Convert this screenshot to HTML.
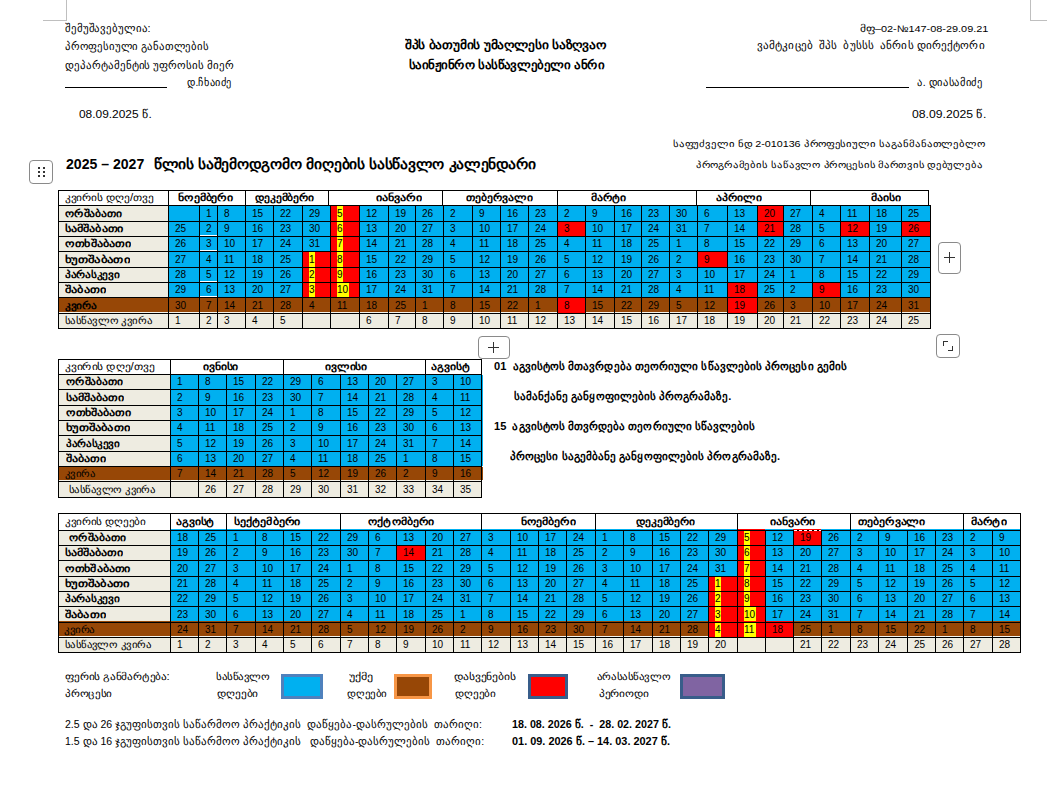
<!DOCTYPE html><html><head><meta charset="utf-8"><style>
html,body{margin:0;padding:0;background:#fff;}
#pg{position:relative;width:1047px;height:786px;overflow:hidden;background:#fff;font-family:"Liberation Sans",sans-serif;color:#000;}
#pg div{position:absolute;}
.t{white-space:pre;transform-origin:0 0;}
.b{font-weight:bold;}
</style></head><body><div id="pg">
<div style="left:58px;top:190px;width:870px;height:15px;background:#FFFFFF;"></div>
<div style="left:58px;top:205px;width:110px;height:16px;background:#EEECE1;"></div>
<div style="left:58px;top:221px;width:110px;height:15px;background:#EEECE1;"></div>
<div style="left:58px;top:236px;width:110px;height:15px;background:#EEECE1;"></div>
<div style="left:58px;top:251px;width:110px;height:16px;background:#EEECE1;"></div>
<div style="left:58px;top:267px;width:110px;height:15px;background:#EEECE1;"></div>
<div style="left:58px;top:282px;width:110px;height:15px;background:#EEECE1;"></div>
<div style="left:58px;top:297px;width:110px;height:15px;background:#974706;"></div>
<div style="left:58px;top:312px;width:110px;height:1px;background:#F6F4EC;"></div>
<div style="left:58px;top:313px;width:110px;height:15px;background:#EEECE1;"></div>
<div style="left:168px;top:205px;width:31px;height:16px;background:#00B0F0;"></div>
<div style="left:168px;top:221px;width:31px;height:15px;background:#00B0F0;"></div>
<div style="left:168px;top:236px;width:31px;height:15px;background:#00B0F0;"></div>
<div style="left:168px;top:251px;width:31px;height:16px;background:#00B0F0;"></div>
<div style="left:168px;top:267px;width:31px;height:15px;background:#00B0F0;"></div>
<div style="left:168px;top:282px;width:31px;height:15px;background:#00B0F0;"></div>
<div style="left:168px;top:297px;width:31px;height:15px;background:#974706;"></div>
<div style="left:168px;top:312px;width:31px;height:1px;background:#F6F4EC;"></div>
<div style="left:168px;top:313px;width:31px;height:15px;background:#EEECE1;"></div>
<div style="left:199px;top:205px;width:18px;height:16px;background:#00B0F0;"></div>
<div style="left:199px;top:221px;width:18px;height:15px;background:#00B0F0;"></div>
<div style="left:199px;top:236px;width:18px;height:15px;background:#00B0F0;"></div>
<div style="left:199px;top:251px;width:18px;height:16px;background:#00B0F0;"></div>
<div style="left:199px;top:267px;width:18px;height:15px;background:#00B0F0;"></div>
<div style="left:199px;top:282px;width:18px;height:15px;background:#00B0F0;"></div>
<div style="left:199px;top:297px;width:18px;height:15px;background:#974706;"></div>
<div style="left:199px;top:312px;width:18px;height:1px;background:#F6F4EC;"></div>
<div style="left:199px;top:313px;width:18px;height:15px;background:#EEECE1;"></div>
<div style="left:217px;top:205px;width:28px;height:16px;background:#00B0F0;"></div>
<div style="left:217px;top:221px;width:28px;height:15px;background:#00B0F0;"></div>
<div style="left:217px;top:236px;width:28px;height:15px;background:#00B0F0;"></div>
<div style="left:217px;top:251px;width:28px;height:16px;background:#00B0F0;"></div>
<div style="left:217px;top:267px;width:28px;height:15px;background:#00B0F0;"></div>
<div style="left:217px;top:282px;width:28px;height:15px;background:#00B0F0;"></div>
<div style="left:217px;top:297px;width:28px;height:15px;background:#974706;"></div>
<div style="left:217px;top:312px;width:28px;height:1px;background:#F6F4EC;"></div>
<div style="left:217px;top:313px;width:28px;height:15px;background:#EEECE1;"></div>
<div style="left:245px;top:205px;width:28px;height:16px;background:#00B0F0;"></div>
<div style="left:245px;top:221px;width:28px;height:15px;background:#00B0F0;"></div>
<div style="left:245px;top:236px;width:28px;height:15px;background:#00B0F0;"></div>
<div style="left:245px;top:251px;width:28px;height:16px;background:#00B0F0;"></div>
<div style="left:245px;top:267px;width:28px;height:15px;background:#00B0F0;"></div>
<div style="left:245px;top:282px;width:28px;height:15px;background:#00B0F0;"></div>
<div style="left:245px;top:297px;width:28px;height:15px;background:#974706;"></div>
<div style="left:245px;top:312px;width:28px;height:1px;background:#F6F4EC;"></div>
<div style="left:245px;top:313px;width:28px;height:15px;background:#EEECE1;"></div>
<div style="left:273px;top:205px;width:29px;height:16px;background:#00B0F0;"></div>
<div style="left:273px;top:221px;width:29px;height:15px;background:#00B0F0;"></div>
<div style="left:273px;top:236px;width:29px;height:15px;background:#00B0F0;"></div>
<div style="left:273px;top:251px;width:29px;height:16px;background:#00B0F0;"></div>
<div style="left:273px;top:267px;width:29px;height:15px;background:#00B0F0;"></div>
<div style="left:273px;top:282px;width:29px;height:15px;background:#00B0F0;"></div>
<div style="left:273px;top:297px;width:29px;height:15px;background:#974706;"></div>
<div style="left:273px;top:312px;width:29px;height:1px;background:#F6F4EC;"></div>
<div style="left:273px;top:313px;width:29px;height:15px;background:#EEECE1;"></div>
<div style="left:302px;top:205px;width:28px;height:16px;background:#00B0F0;"></div>
<div style="left:302px;top:221px;width:28px;height:15px;background:#00B0F0;"></div>
<div style="left:302px;top:236px;width:28px;height:15px;background:#00B0F0;"></div>
<div style="left:302px;top:251px;width:28px;height:16px;background:#FF0000;"></div>
<div style="left:302px;top:267px;width:28px;height:15px;background:#FF0000;"></div>
<div style="left:302px;top:282px;width:28px;height:15px;background:#FF0000;"></div>
<div style="left:302px;top:297px;width:28px;height:15px;background:#974706;"></div>
<div style="left:302px;top:312px;width:28px;height:1px;background:#F6F4EC;"></div>
<div style="left:302px;top:313px;width:28px;height:15px;background:#EEECE1;"></div>
<div style="left:330px;top:205px;width:29px;height:16px;background:#FF0000;"></div>
<div style="left:330px;top:221px;width:29px;height:15px;background:#FF0000;"></div>
<div style="left:330px;top:236px;width:29px;height:15px;background:#FF0000;"></div>
<div style="left:330px;top:251px;width:29px;height:16px;background:#FF0000;"></div>
<div style="left:330px;top:267px;width:29px;height:15px;background:#FF0000;"></div>
<div style="left:330px;top:282px;width:29px;height:15px;background:#FF0000;"></div>
<div style="left:330px;top:297px;width:29px;height:15px;background:#974706;"></div>
<div style="left:330px;top:312px;width:29px;height:1px;background:#F6F4EC;"></div>
<div style="left:330px;top:313px;width:29px;height:15px;background:#EEECE1;"></div>
<div style="left:359px;top:205px;width:29px;height:16px;background:#00B0F0;"></div>
<div style="left:359px;top:221px;width:29px;height:15px;background:#00B0F0;"></div>
<div style="left:359px;top:236px;width:29px;height:15px;background:#00B0F0;"></div>
<div style="left:359px;top:251px;width:29px;height:16px;background:#00B0F0;"></div>
<div style="left:359px;top:267px;width:29px;height:15px;background:#00B0F0;"></div>
<div style="left:359px;top:282px;width:29px;height:15px;background:#00B0F0;"></div>
<div style="left:359px;top:297px;width:29px;height:15px;background:#974706;"></div>
<div style="left:359px;top:312px;width:29px;height:1px;background:#F6F4EC;"></div>
<div style="left:359px;top:313px;width:29px;height:15px;background:#EEECE1;"></div>
<div style="left:388px;top:205px;width:27px;height:16px;background:#00B0F0;"></div>
<div style="left:388px;top:221px;width:27px;height:15px;background:#00B0F0;"></div>
<div style="left:388px;top:236px;width:27px;height:15px;background:#00B0F0;"></div>
<div style="left:388px;top:251px;width:27px;height:16px;background:#00B0F0;"></div>
<div style="left:388px;top:267px;width:27px;height:15px;background:#00B0F0;"></div>
<div style="left:388px;top:282px;width:27px;height:15px;background:#00B0F0;"></div>
<div style="left:388px;top:297px;width:27px;height:15px;background:#974706;"></div>
<div style="left:388px;top:312px;width:27px;height:1px;background:#F6F4EC;"></div>
<div style="left:388px;top:313px;width:27px;height:15px;background:#EEECE1;"></div>
<div style="left:415px;top:205px;width:28px;height:16px;background:#00B0F0;"></div>
<div style="left:415px;top:221px;width:28px;height:15px;background:#00B0F0;"></div>
<div style="left:415px;top:236px;width:28px;height:15px;background:#00B0F0;"></div>
<div style="left:415px;top:251px;width:28px;height:16px;background:#00B0F0;"></div>
<div style="left:415px;top:267px;width:28px;height:15px;background:#00B0F0;"></div>
<div style="left:415px;top:282px;width:28px;height:15px;background:#00B0F0;"></div>
<div style="left:415px;top:297px;width:28px;height:15px;background:#974706;"></div>
<div style="left:415px;top:312px;width:28px;height:1px;background:#F6F4EC;"></div>
<div style="left:415px;top:313px;width:28px;height:15px;background:#EEECE1;"></div>
<div style="left:443px;top:205px;width:29px;height:16px;background:#00B0F0;"></div>
<div style="left:443px;top:221px;width:29px;height:15px;background:#00B0F0;"></div>
<div style="left:443px;top:236px;width:29px;height:15px;background:#00B0F0;"></div>
<div style="left:443px;top:251px;width:29px;height:16px;background:#00B0F0;"></div>
<div style="left:443px;top:267px;width:29px;height:15px;background:#00B0F0;"></div>
<div style="left:443px;top:282px;width:29px;height:15px;background:#00B0F0;"></div>
<div style="left:443px;top:297px;width:29px;height:15px;background:#974706;"></div>
<div style="left:443px;top:312px;width:29px;height:1px;background:#F6F4EC;"></div>
<div style="left:443px;top:313px;width:29px;height:15px;background:#EEECE1;"></div>
<div style="left:472px;top:205px;width:28px;height:16px;background:#00B0F0;"></div>
<div style="left:472px;top:221px;width:28px;height:15px;background:#00B0F0;"></div>
<div style="left:472px;top:236px;width:28px;height:15px;background:#00B0F0;"></div>
<div style="left:472px;top:251px;width:28px;height:16px;background:#00B0F0;"></div>
<div style="left:472px;top:267px;width:28px;height:15px;background:#00B0F0;"></div>
<div style="left:472px;top:282px;width:28px;height:15px;background:#00B0F0;"></div>
<div style="left:472px;top:297px;width:28px;height:15px;background:#974706;"></div>
<div style="left:472px;top:312px;width:28px;height:1px;background:#F6F4EC;"></div>
<div style="left:472px;top:313px;width:28px;height:15px;background:#EEECE1;"></div>
<div style="left:500px;top:205px;width:28px;height:16px;background:#00B0F0;"></div>
<div style="left:500px;top:221px;width:28px;height:15px;background:#00B0F0;"></div>
<div style="left:500px;top:236px;width:28px;height:15px;background:#00B0F0;"></div>
<div style="left:500px;top:251px;width:28px;height:16px;background:#00B0F0;"></div>
<div style="left:500px;top:267px;width:28px;height:15px;background:#00B0F0;"></div>
<div style="left:500px;top:282px;width:28px;height:15px;background:#00B0F0;"></div>
<div style="left:500px;top:297px;width:28px;height:15px;background:#974706;"></div>
<div style="left:500px;top:312px;width:28px;height:1px;background:#F6F4EC;"></div>
<div style="left:500px;top:313px;width:28px;height:15px;background:#EEECE1;"></div>
<div style="left:528px;top:205px;width:29px;height:16px;background:#00B0F0;"></div>
<div style="left:528px;top:221px;width:29px;height:15px;background:#00B0F0;"></div>
<div style="left:528px;top:236px;width:29px;height:15px;background:#00B0F0;"></div>
<div style="left:528px;top:251px;width:29px;height:16px;background:#00B0F0;"></div>
<div style="left:528px;top:267px;width:29px;height:15px;background:#00B0F0;"></div>
<div style="left:528px;top:282px;width:29px;height:15px;background:#00B0F0;"></div>
<div style="left:528px;top:297px;width:29px;height:15px;background:#974706;"></div>
<div style="left:528px;top:312px;width:29px;height:1px;background:#F6F4EC;"></div>
<div style="left:528px;top:313px;width:29px;height:15px;background:#EEECE1;"></div>
<div style="left:557px;top:205px;width:28px;height:16px;background:#00B0F0;"></div>
<div style="left:557px;top:221px;width:28px;height:15px;background:#FF0000;"></div>
<div style="left:557px;top:236px;width:28px;height:15px;background:#00B0F0;"></div>
<div style="left:557px;top:251px;width:28px;height:16px;background:#00B0F0;"></div>
<div style="left:557px;top:267px;width:28px;height:15px;background:#00B0F0;"></div>
<div style="left:557px;top:282px;width:28px;height:15px;background:#00B0F0;"></div>
<div style="left:557px;top:297px;width:28px;height:16px;background:#FF0000;"></div>
<div style="left:557px;top:313px;width:28px;height:15px;background:#EEECE1;"></div>
<div style="left:585px;top:205px;width:29px;height:16px;background:#00B0F0;"></div>
<div style="left:585px;top:221px;width:29px;height:15px;background:#00B0F0;"></div>
<div style="left:585px;top:236px;width:29px;height:15px;background:#00B0F0;"></div>
<div style="left:585px;top:251px;width:29px;height:16px;background:#00B0F0;"></div>
<div style="left:585px;top:267px;width:29px;height:15px;background:#00B0F0;"></div>
<div style="left:585px;top:282px;width:29px;height:15px;background:#00B0F0;"></div>
<div style="left:585px;top:297px;width:29px;height:15px;background:#974706;"></div>
<div style="left:585px;top:312px;width:29px;height:1px;background:#F6F4EC;"></div>
<div style="left:585px;top:313px;width:29px;height:15px;background:#EEECE1;"></div>
<div style="left:614px;top:205px;width:27px;height:16px;background:#00B0F0;"></div>
<div style="left:614px;top:221px;width:27px;height:15px;background:#00B0F0;"></div>
<div style="left:614px;top:236px;width:27px;height:15px;background:#00B0F0;"></div>
<div style="left:614px;top:251px;width:27px;height:16px;background:#00B0F0;"></div>
<div style="left:614px;top:267px;width:27px;height:15px;background:#00B0F0;"></div>
<div style="left:614px;top:282px;width:27px;height:15px;background:#00B0F0;"></div>
<div style="left:614px;top:297px;width:27px;height:15px;background:#974706;"></div>
<div style="left:614px;top:312px;width:27px;height:1px;background:#F6F4EC;"></div>
<div style="left:614px;top:313px;width:27px;height:15px;background:#EEECE1;"></div>
<div style="left:641px;top:205px;width:28px;height:16px;background:#00B0F0;"></div>
<div style="left:641px;top:221px;width:28px;height:15px;background:#00B0F0;"></div>
<div style="left:641px;top:236px;width:28px;height:15px;background:#00B0F0;"></div>
<div style="left:641px;top:251px;width:28px;height:16px;background:#00B0F0;"></div>
<div style="left:641px;top:267px;width:28px;height:15px;background:#00B0F0;"></div>
<div style="left:641px;top:282px;width:28px;height:15px;background:#00B0F0;"></div>
<div style="left:641px;top:297px;width:28px;height:15px;background:#974706;"></div>
<div style="left:641px;top:312px;width:28px;height:1px;background:#F6F4EC;"></div>
<div style="left:641px;top:313px;width:28px;height:15px;background:#EEECE1;"></div>
<div style="left:669px;top:205px;width:28px;height:16px;background:#00B0F0;"></div>
<div style="left:669px;top:221px;width:28px;height:15px;background:#00B0F0;"></div>
<div style="left:669px;top:236px;width:28px;height:15px;background:#00B0F0;"></div>
<div style="left:669px;top:251px;width:28px;height:16px;background:#00B0F0;"></div>
<div style="left:669px;top:267px;width:28px;height:15px;background:#00B0F0;"></div>
<div style="left:669px;top:282px;width:28px;height:15px;background:#00B0F0;"></div>
<div style="left:669px;top:297px;width:28px;height:15px;background:#974706;"></div>
<div style="left:669px;top:312px;width:28px;height:1px;background:#F6F4EC;"></div>
<div style="left:669px;top:313px;width:28px;height:15px;background:#EEECE1;"></div>
<div style="left:697px;top:205px;width:30px;height:16px;background:#00B0F0;"></div>
<div style="left:697px;top:221px;width:30px;height:15px;background:#00B0F0;"></div>
<div style="left:697px;top:236px;width:30px;height:15px;background:#00B0F0;"></div>
<div style="left:697px;top:251px;width:30px;height:16px;background:#FF0000;"></div>
<div style="left:697px;top:267px;width:30px;height:15px;background:#00B0F0;"></div>
<div style="left:697px;top:282px;width:30px;height:15px;background:#00B0F0;"></div>
<div style="left:697px;top:297px;width:30px;height:15px;background:#974706;"></div>
<div style="left:697px;top:312px;width:30px;height:1px;background:#F6F4EC;"></div>
<div style="left:697px;top:313px;width:30px;height:15px;background:#EEECE1;"></div>
<div style="left:727px;top:205px;width:30px;height:16px;background:#00B0F0;"></div>
<div style="left:727px;top:221px;width:30px;height:15px;background:#00B0F0;"></div>
<div style="left:727px;top:236px;width:30px;height:15px;background:#00B0F0;"></div>
<div style="left:727px;top:251px;width:30px;height:16px;background:#00B0F0;"></div>
<div style="left:727px;top:267px;width:30px;height:15px;background:#00B0F0;"></div>
<div style="left:727px;top:282px;width:30px;height:15px;background:#FF0000;"></div>
<div style="left:727px;top:297px;width:30px;height:16px;background:#FF0000;"></div>
<div style="left:727px;top:313px;width:30px;height:15px;background:#EEECE1;"></div>
<div style="left:757px;top:205px;width:26px;height:16px;background:#FF0000;"></div>
<div style="left:757px;top:221px;width:26px;height:15px;background:#FF0000;"></div>
<div style="left:757px;top:236px;width:26px;height:15px;background:#00B0F0;"></div>
<div style="left:757px;top:251px;width:26px;height:16px;background:#00B0F0;"></div>
<div style="left:757px;top:267px;width:26px;height:15px;background:#00B0F0;"></div>
<div style="left:757px;top:282px;width:26px;height:15px;background:#00B0F0;"></div>
<div style="left:757px;top:297px;width:26px;height:15px;background:#974706;"></div>
<div style="left:757px;top:312px;width:26px;height:1px;background:#F6F4EC;"></div>
<div style="left:757px;top:313px;width:26px;height:15px;background:#EEECE1;"></div>
<div style="left:783px;top:205px;width:29px;height:16px;background:#00B0F0;"></div>
<div style="left:783px;top:221px;width:29px;height:15px;background:#00B0F0;"></div>
<div style="left:783px;top:236px;width:29px;height:15px;background:#00B0F0;"></div>
<div style="left:783px;top:251px;width:29px;height:16px;background:#00B0F0;"></div>
<div style="left:783px;top:267px;width:29px;height:15px;background:#00B0F0;"></div>
<div style="left:783px;top:282px;width:29px;height:15px;background:#00B0F0;"></div>
<div style="left:783px;top:297px;width:29px;height:15px;background:#974706;"></div>
<div style="left:783px;top:312px;width:29px;height:1px;background:#F6F4EC;"></div>
<div style="left:783px;top:313px;width:29px;height:15px;background:#EEECE1;"></div>
<div style="left:812px;top:205px;width:28px;height:16px;background:#00B0F0;"></div>
<div style="left:812px;top:221px;width:28px;height:15px;background:#00B0F0;"></div>
<div style="left:812px;top:236px;width:28px;height:15px;background:#00B0F0;"></div>
<div style="left:812px;top:251px;width:28px;height:16px;background:#00B0F0;"></div>
<div style="left:812px;top:267px;width:28px;height:15px;background:#00B0F0;"></div>
<div style="left:812px;top:282px;width:28px;height:15px;background:#FF0000;"></div>
<div style="left:812px;top:297px;width:28px;height:15px;background:#974706;"></div>
<div style="left:812px;top:312px;width:28px;height:1px;background:#F6F4EC;"></div>
<div style="left:812px;top:313px;width:28px;height:15px;background:#EEECE1;"></div>
<div style="left:840px;top:205px;width:29px;height:16px;background:#00B0F0;"></div>
<div style="left:840px;top:221px;width:29px;height:15px;background:#FF0000;"></div>
<div style="left:840px;top:236px;width:29px;height:15px;background:#00B0F0;"></div>
<div style="left:840px;top:251px;width:29px;height:16px;background:#00B0F0;"></div>
<div style="left:840px;top:267px;width:29px;height:15px;background:#00B0F0;"></div>
<div style="left:840px;top:282px;width:29px;height:15px;background:#00B0F0;"></div>
<div style="left:840px;top:297px;width:29px;height:15px;background:#974706;"></div>
<div style="left:840px;top:312px;width:29px;height:1px;background:#F6F4EC;"></div>
<div style="left:840px;top:313px;width:29px;height:15px;background:#EEECE1;"></div>
<div style="left:869px;top:205px;width:32px;height:16px;background:#00B0F0;"></div>
<div style="left:869px;top:221px;width:32px;height:15px;background:#00B0F0;"></div>
<div style="left:869px;top:236px;width:32px;height:15px;background:#00B0F0;"></div>
<div style="left:869px;top:251px;width:32px;height:16px;background:#00B0F0;"></div>
<div style="left:869px;top:267px;width:32px;height:15px;background:#00B0F0;"></div>
<div style="left:869px;top:282px;width:32px;height:15px;background:#00B0F0;"></div>
<div style="left:869px;top:297px;width:32px;height:15px;background:#974706;"></div>
<div style="left:869px;top:312px;width:32px;height:1px;background:#F6F4EC;"></div>
<div style="left:869px;top:313px;width:32px;height:15px;background:#EEECE1;"></div>
<div style="left:901px;top:205px;width:29px;height:16px;background:#00B0F0;"></div>
<div style="left:901px;top:221px;width:29px;height:15px;background:#FF0000;"></div>
<div style="left:901px;top:236px;width:29px;height:15px;background:#00B0F0;"></div>
<div style="left:901px;top:251px;width:29px;height:16px;background:#00B0F0;"></div>
<div style="left:901px;top:267px;width:29px;height:15px;background:#00B0F0;"></div>
<div style="left:901px;top:282px;width:29px;height:15px;background:#00B0F0;"></div>
<div style="left:901px;top:297px;width:29px;height:15px;background:#974706;"></div>
<div style="left:901px;top:312px;width:29px;height:1px;background:#F6F4EC;"></div>
<div style="left:901px;top:313px;width:29px;height:15px;background:#EEECE1;"></div>
<div style="left:309px;top:252px;width:6px;height:15px;background:#FFFF00;"></div>
<div style="left:309px;top:268px;width:6px;height:14px;background:#FFFF00;"></div>
<div style="left:309px;top:283px;width:6px;height:14px;background:#FFFF00;"></div>
<div style="left:337px;top:206px;width:6px;height:15px;background:#FFFF00;"></div>
<div style="left:337px;top:222px;width:6px;height:14px;background:#FFFF00;"></div>
<div style="left:337px;top:237px;width:6px;height:14px;background:#FFFF00;"></div>
<div style="left:337px;top:252px;width:6px;height:15px;background:#FFFF00;"></div>
<div style="left:337px;top:268px;width:6px;height:14px;background:#FFFF00;"></div>
<div style="left:337px;top:283px;width:12px;height:14px;background:#FFFF00;"></div>
<div style="left:58px;top:190px;width:871px;height:1px;background:#000000;"></div>
<div style="left:58px;top:205px;width:871px;height:1px;background:#000000;"></div>
<div style="left:58px;top:205px;width:873px;height:1px;background:#000000;"></div>
<div style="left:58px;top:221px;width:873px;height:1px;background:#000000;"></div>
<div style="left:58px;top:236px;width:873px;height:1px;background:#000000;"></div>
<div style="left:58px;top:251px;width:873px;height:1px;background:#000000;"></div>
<div style="left:58px;top:267px;width:873px;height:1px;background:#000000;"></div>
<div style="left:58px;top:282px;width:873px;height:1px;background:#000000;"></div>
<div style="left:58px;top:297px;width:873px;height:1px;background:#000000;"></div>
<div style="left:58px;top:313px;width:873px;height:1px;background:#000000;"></div>
<div style="left:58px;top:328px;width:873px;height:1px;background:#000000;"></div>
<div style="left:58px;top:190px;width:1px;height:16px;background:#000000;"></div>
<div style="left:168px;top:190px;width:1px;height:16px;background:#000000;"></div>
<div style="left:245px;top:190px;width:1px;height:16px;background:#000000;"></div>
<div style="left:328px;top:190px;width:1px;height:16px;background:#000000;"></div>
<div style="left:442px;top:190px;width:1px;height:16px;background:#000000;"></div>
<div style="left:557px;top:190px;width:1px;height:16px;background:#000000;"></div>
<div style="left:696px;top:190px;width:1px;height:16px;background:#000000;"></div>
<div style="left:810px;top:190px;width:1px;height:16px;background:#000000;"></div>
<div style="left:928px;top:190px;width:1px;height:16px;background:#000000;"></div>
<div style="left:58px;top:205px;width:1px;height:124px;background:#000000;"></div>
<div style="left:168px;top:205px;width:1px;height:124px;background:#000000;"></div>
<div style="left:199px;top:205px;width:1px;height:124px;background:#000000;"></div>
<div style="left:217px;top:205px;width:1px;height:124px;background:#000000;"></div>
<div style="left:245px;top:205px;width:1px;height:124px;background:#000000;"></div>
<div style="left:273px;top:205px;width:1px;height:124px;background:#000000;"></div>
<div style="left:302px;top:205px;width:1px;height:124px;background:#000000;"></div>
<div style="left:330px;top:205px;width:1px;height:124px;background:#000000;"></div>
<div style="left:359px;top:205px;width:1px;height:124px;background:#000000;"></div>
<div style="left:388px;top:205px;width:1px;height:124px;background:#000000;"></div>
<div style="left:415px;top:205px;width:1px;height:124px;background:#000000;"></div>
<div style="left:443px;top:205px;width:1px;height:124px;background:#000000;"></div>
<div style="left:472px;top:205px;width:1px;height:124px;background:#000000;"></div>
<div style="left:500px;top:205px;width:1px;height:124px;background:#000000;"></div>
<div style="left:528px;top:205px;width:1px;height:124px;background:#000000;"></div>
<div style="left:557px;top:205px;width:1px;height:124px;background:#000000;"></div>
<div style="left:585px;top:205px;width:1px;height:124px;background:#000000;"></div>
<div style="left:614px;top:205px;width:1px;height:124px;background:#000000;"></div>
<div style="left:641px;top:205px;width:1px;height:124px;background:#000000;"></div>
<div style="left:669px;top:205px;width:1px;height:124px;background:#000000;"></div>
<div style="left:697px;top:205px;width:1px;height:124px;background:#000000;"></div>
<div style="left:727px;top:205px;width:1px;height:124px;background:#000000;"></div>
<div style="left:757px;top:205px;width:1px;height:124px;background:#000000;"></div>
<div style="left:783px;top:205px;width:1px;height:124px;background:#000000;"></div>
<div style="left:812px;top:205px;width:1px;height:124px;background:#000000;"></div>
<div style="left:840px;top:205px;width:1px;height:124px;background:#000000;"></div>
<div style="left:869px;top:205px;width:1px;height:124px;background:#000000;"></div>
<div style="left:901px;top:205px;width:1px;height:124px;background:#000000;"></div>
<div style="left:930px;top:205px;width:1px;height:124px;background:#000000;"></div>
<div style="left:200px;top:235px;width:17px;height:1px;background:#FFFFFF;"></div>
<div style="left:200px;top:250px;width:17px;height:1px;background:#FFFFFF;"></div>
<div style="left:200px;top:281px;width:17px;height:1px;background:#FFFFFF;"></div>
<div style="left:200px;top:296px;width:17px;height:1px;background:#FFFFFF;"></div>
<div style="left:58px;top:359px;width:423px;height:15px;background:#FFFFFF;"></div>
<div style="left:58px;top:374px;width:112px;height:15px;background:#EEECE1;"></div>
<div style="left:58px;top:389px;width:112px;height:16px;background:#EEECE1;"></div>
<div style="left:58px;top:405px;width:112px;height:15px;background:#EEECE1;"></div>
<div style="left:58px;top:420px;width:112px;height:15px;background:#EEECE1;"></div>
<div style="left:58px;top:435px;width:112px;height:16px;background:#EEECE1;"></div>
<div style="left:58px;top:451px;width:112px;height:15px;background:#EEECE1;"></div>
<div style="left:58px;top:466px;width:112px;height:14px;background:#974706;"></div>
<div style="left:58px;top:480px;width:112px;height:1px;background:#F6F4EC;"></div>
<div style="left:58px;top:481px;width:112px;height:16px;background:#EEECE1;"></div>
<div style="left:170px;top:374px;width:28px;height:15px;background:#00B0F0;"></div>
<div style="left:170px;top:389px;width:28px;height:16px;background:#00B0F0;"></div>
<div style="left:170px;top:405px;width:28px;height:15px;background:#00B0F0;"></div>
<div style="left:170px;top:420px;width:28px;height:15px;background:#00B0F0;"></div>
<div style="left:170px;top:435px;width:28px;height:16px;background:#00B0F0;"></div>
<div style="left:170px;top:451px;width:28px;height:15px;background:#00B0F0;"></div>
<div style="left:170px;top:466px;width:28px;height:14px;background:#974706;"></div>
<div style="left:170px;top:480px;width:28px;height:1px;background:#F6F4EC;"></div>
<div style="left:170px;top:481px;width:28px;height:16px;background:#EEECE1;"></div>
<div style="left:198px;top:374px;width:28px;height:15px;background:#00B0F0;"></div>
<div style="left:198px;top:389px;width:28px;height:16px;background:#00B0F0;"></div>
<div style="left:198px;top:405px;width:28px;height:15px;background:#00B0F0;"></div>
<div style="left:198px;top:420px;width:28px;height:15px;background:#00B0F0;"></div>
<div style="left:198px;top:435px;width:28px;height:16px;background:#00B0F0;"></div>
<div style="left:198px;top:451px;width:28px;height:15px;background:#00B0F0;"></div>
<div style="left:198px;top:466px;width:28px;height:14px;background:#974706;"></div>
<div style="left:198px;top:480px;width:28px;height:1px;background:#F6F4EC;"></div>
<div style="left:198px;top:481px;width:28px;height:16px;background:#EEECE1;"></div>
<div style="left:226px;top:374px;width:29px;height:15px;background:#00B0F0;"></div>
<div style="left:226px;top:389px;width:29px;height:16px;background:#00B0F0;"></div>
<div style="left:226px;top:405px;width:29px;height:15px;background:#00B0F0;"></div>
<div style="left:226px;top:420px;width:29px;height:15px;background:#00B0F0;"></div>
<div style="left:226px;top:435px;width:29px;height:16px;background:#00B0F0;"></div>
<div style="left:226px;top:451px;width:29px;height:15px;background:#00B0F0;"></div>
<div style="left:226px;top:466px;width:29px;height:14px;background:#974706;"></div>
<div style="left:226px;top:480px;width:29px;height:1px;background:#F6F4EC;"></div>
<div style="left:226px;top:481px;width:29px;height:16px;background:#EEECE1;"></div>
<div style="left:255px;top:374px;width:28px;height:15px;background:#00B0F0;"></div>
<div style="left:255px;top:389px;width:28px;height:16px;background:#00B0F0;"></div>
<div style="left:255px;top:405px;width:28px;height:15px;background:#00B0F0;"></div>
<div style="left:255px;top:420px;width:28px;height:15px;background:#00B0F0;"></div>
<div style="left:255px;top:435px;width:28px;height:16px;background:#00B0F0;"></div>
<div style="left:255px;top:451px;width:28px;height:15px;background:#00B0F0;"></div>
<div style="left:255px;top:466px;width:28px;height:14px;background:#974706;"></div>
<div style="left:255px;top:480px;width:28px;height:1px;background:#F6F4EC;"></div>
<div style="left:255px;top:481px;width:28px;height:16px;background:#EEECE1;"></div>
<div style="left:283px;top:374px;width:28px;height:15px;background:#00B0F0;"></div>
<div style="left:283px;top:389px;width:28px;height:16px;background:#00B0F0;"></div>
<div style="left:283px;top:405px;width:28px;height:15px;background:#00B0F0;"></div>
<div style="left:283px;top:420px;width:28px;height:15px;background:#00B0F0;"></div>
<div style="left:283px;top:435px;width:28px;height:16px;background:#00B0F0;"></div>
<div style="left:283px;top:451px;width:28px;height:15px;background:#00B0F0;"></div>
<div style="left:283px;top:466px;width:28px;height:14px;background:#974706;"></div>
<div style="left:283px;top:480px;width:28px;height:1px;background:#F6F4EC;"></div>
<div style="left:283px;top:481px;width:28px;height:16px;background:#EEECE1;"></div>
<div style="left:311px;top:374px;width:29px;height:15px;background:#00B0F0;"></div>
<div style="left:311px;top:389px;width:29px;height:16px;background:#00B0F0;"></div>
<div style="left:311px;top:405px;width:29px;height:15px;background:#00B0F0;"></div>
<div style="left:311px;top:420px;width:29px;height:15px;background:#00B0F0;"></div>
<div style="left:311px;top:435px;width:29px;height:16px;background:#00B0F0;"></div>
<div style="left:311px;top:451px;width:29px;height:15px;background:#00B0F0;"></div>
<div style="left:311px;top:466px;width:29px;height:14px;background:#974706;"></div>
<div style="left:311px;top:480px;width:29px;height:1px;background:#F6F4EC;"></div>
<div style="left:311px;top:481px;width:29px;height:16px;background:#EEECE1;"></div>
<div style="left:340px;top:374px;width:28px;height:15px;background:#00B0F0;"></div>
<div style="left:340px;top:389px;width:28px;height:16px;background:#00B0F0;"></div>
<div style="left:340px;top:405px;width:28px;height:15px;background:#00B0F0;"></div>
<div style="left:340px;top:420px;width:28px;height:15px;background:#00B0F0;"></div>
<div style="left:340px;top:435px;width:28px;height:16px;background:#00B0F0;"></div>
<div style="left:340px;top:451px;width:28px;height:15px;background:#00B0F0;"></div>
<div style="left:340px;top:466px;width:28px;height:14px;background:#974706;"></div>
<div style="left:340px;top:480px;width:28px;height:1px;background:#F6F4EC;"></div>
<div style="left:340px;top:481px;width:28px;height:16px;background:#EEECE1;"></div>
<div style="left:368px;top:374px;width:28px;height:15px;background:#00B0F0;"></div>
<div style="left:368px;top:389px;width:28px;height:16px;background:#00B0F0;"></div>
<div style="left:368px;top:405px;width:28px;height:15px;background:#00B0F0;"></div>
<div style="left:368px;top:420px;width:28px;height:15px;background:#00B0F0;"></div>
<div style="left:368px;top:435px;width:28px;height:16px;background:#00B0F0;"></div>
<div style="left:368px;top:451px;width:28px;height:15px;background:#00B0F0;"></div>
<div style="left:368px;top:466px;width:28px;height:14px;background:#974706;"></div>
<div style="left:368px;top:480px;width:28px;height:1px;background:#F6F4EC;"></div>
<div style="left:368px;top:481px;width:28px;height:16px;background:#EEECE1;"></div>
<div style="left:396px;top:374px;width:29px;height:15px;background:#00B0F0;"></div>
<div style="left:396px;top:389px;width:29px;height:16px;background:#00B0F0;"></div>
<div style="left:396px;top:405px;width:29px;height:15px;background:#00B0F0;"></div>
<div style="left:396px;top:420px;width:29px;height:15px;background:#00B0F0;"></div>
<div style="left:396px;top:435px;width:29px;height:16px;background:#00B0F0;"></div>
<div style="left:396px;top:451px;width:29px;height:15px;background:#00B0F0;"></div>
<div style="left:396px;top:466px;width:29px;height:14px;background:#974706;"></div>
<div style="left:396px;top:480px;width:29px;height:1px;background:#F6F4EC;"></div>
<div style="left:396px;top:481px;width:29px;height:16px;background:#EEECE1;"></div>
<div style="left:425px;top:374px;width:28px;height:15px;background:#00B0F0;"></div>
<div style="left:425px;top:389px;width:28px;height:16px;background:#00B0F0;"></div>
<div style="left:425px;top:405px;width:28px;height:15px;background:#00B0F0;"></div>
<div style="left:425px;top:420px;width:28px;height:15px;background:#00B0F0;"></div>
<div style="left:425px;top:435px;width:28px;height:16px;background:#00B0F0;"></div>
<div style="left:425px;top:451px;width:28px;height:15px;background:#00B0F0;"></div>
<div style="left:425px;top:466px;width:28px;height:14px;background:#974706;"></div>
<div style="left:425px;top:480px;width:28px;height:1px;background:#F6F4EC;"></div>
<div style="left:425px;top:481px;width:28px;height:16px;background:#EEECE1;"></div>
<div style="left:453px;top:374px;width:28px;height:15px;background:#00B0F0;"></div>
<div style="left:453px;top:389px;width:28px;height:16px;background:#00B0F0;"></div>
<div style="left:453px;top:405px;width:28px;height:15px;background:#00B0F0;"></div>
<div style="left:453px;top:420px;width:28px;height:15px;background:#00B0F0;"></div>
<div style="left:453px;top:435px;width:28px;height:16px;background:#00B0F0;"></div>
<div style="left:453px;top:451px;width:28px;height:15px;background:#00B0F0;"></div>
<div style="left:453px;top:466px;width:28px;height:14px;background:#974706;"></div>
<div style="left:453px;top:480px;width:28px;height:1px;background:#F6F4EC;"></div>
<div style="left:453px;top:481px;width:28px;height:16px;background:#EEECE1;"></div>
<div style="left:58px;top:359px;width:424px;height:1px;background:#000000;"></div>
<div style="left:58px;top:374px;width:424px;height:1px;background:#000000;"></div>
<div style="left:58px;top:374px;width:424px;height:1px;background:#000000;"></div>
<div style="left:58px;top:389px;width:424px;height:1px;background:#000000;"></div>
<div style="left:58px;top:405px;width:424px;height:1px;background:#000000;"></div>
<div style="left:58px;top:420px;width:424px;height:1px;background:#000000;"></div>
<div style="left:58px;top:435px;width:424px;height:1px;background:#000000;"></div>
<div style="left:58px;top:451px;width:424px;height:1px;background:#000000;"></div>
<div style="left:58px;top:466px;width:424px;height:1px;background:#000000;"></div>
<div style="left:58px;top:481px;width:424px;height:1px;background:#000000;"></div>
<div style="left:58px;top:497px;width:424px;height:1px;background:#000000;"></div>
<div style="left:58px;top:359px;width:1px;height:16px;background:#000000;"></div>
<div style="left:170px;top:359px;width:1px;height:16px;background:#000000;"></div>
<div style="left:283px;top:359px;width:1px;height:16px;background:#000000;"></div>
<div style="left:425px;top:359px;width:1px;height:16px;background:#000000;"></div>
<div style="left:481px;top:359px;width:1px;height:16px;background:#000000;"></div>
<div style="left:58px;top:374px;width:1px;height:124px;background:#000000;"></div>
<div style="left:170px;top:374px;width:1px;height:124px;background:#000000;"></div>
<div style="left:198px;top:374px;width:1px;height:124px;background:#000000;"></div>
<div style="left:226px;top:374px;width:1px;height:124px;background:#000000;"></div>
<div style="left:255px;top:374px;width:1px;height:124px;background:#000000;"></div>
<div style="left:283px;top:374px;width:1px;height:124px;background:#000000;"></div>
<div style="left:311px;top:374px;width:1px;height:124px;background:#000000;"></div>
<div style="left:340px;top:374px;width:1px;height:124px;background:#000000;"></div>
<div style="left:368px;top:374px;width:1px;height:124px;background:#000000;"></div>
<div style="left:396px;top:374px;width:1px;height:124px;background:#000000;"></div>
<div style="left:425px;top:374px;width:1px;height:124px;background:#000000;"></div>
<div style="left:453px;top:374px;width:1px;height:124px;background:#000000;"></div>
<div style="left:481px;top:374px;width:1px;height:124px;background:#000000;"></div>
<div style="left:482px;top:375px;width:1px;height:91px;background:#00B0F0;"></div>
<div style="left:482px;top:467px;width:1px;height:13px;background:#974706;"></div>
<div style="left:58px;top:513px;width:962px;height:17px;background:#FFFFFF;"></div>
<div style="left:58px;top:530px;width:112px;height:15px;background:#EEECE1;"></div>
<div style="left:58px;top:545px;width:112px;height:15px;background:#EEECE1;"></div>
<div style="left:58px;top:560px;width:112px;height:16px;background:#EEECE1;"></div>
<div style="left:58px;top:576px;width:112px;height:15px;background:#EEECE1;"></div>
<div style="left:58px;top:591px;width:112px;height:15px;background:#EEECE1;"></div>
<div style="left:58px;top:606px;width:112px;height:16px;background:#EEECE1;"></div>
<div style="left:58px;top:622px;width:112px;height:14px;background:#974706;"></div>
<div style="left:58px;top:636px;width:112px;height:1px;background:#F6F4EC;"></div>
<div style="left:58px;top:637px;width:112px;height:15px;background:#EEECE1;"></div>
<div style="left:170px;top:530px;width:28px;height:15px;background:#00B0F0;"></div>
<div style="left:170px;top:545px;width:28px;height:15px;background:#00B0F0;"></div>
<div style="left:170px;top:560px;width:28px;height:16px;background:#00B0F0;"></div>
<div style="left:170px;top:576px;width:28px;height:15px;background:#00B0F0;"></div>
<div style="left:170px;top:591px;width:28px;height:15px;background:#00B0F0;"></div>
<div style="left:170px;top:606px;width:28px;height:16px;background:#00B0F0;"></div>
<div style="left:170px;top:622px;width:28px;height:14px;background:#974706;"></div>
<div style="left:170px;top:636px;width:28px;height:1px;background:#F6F4EC;"></div>
<div style="left:170px;top:637px;width:28px;height:15px;background:#EEECE1;"></div>
<div style="left:198px;top:530px;width:28px;height:15px;background:#00B0F0;"></div>
<div style="left:198px;top:545px;width:28px;height:15px;background:#00B0F0;"></div>
<div style="left:198px;top:560px;width:28px;height:16px;background:#00B0F0;"></div>
<div style="left:198px;top:576px;width:28px;height:15px;background:#00B0F0;"></div>
<div style="left:198px;top:591px;width:28px;height:15px;background:#00B0F0;"></div>
<div style="left:198px;top:606px;width:28px;height:16px;background:#00B0F0;"></div>
<div style="left:198px;top:622px;width:28px;height:14px;background:#974706;"></div>
<div style="left:198px;top:636px;width:28px;height:1px;background:#F6F4EC;"></div>
<div style="left:198px;top:637px;width:28px;height:15px;background:#EEECE1;"></div>
<div style="left:226px;top:530px;width:29px;height:15px;background:#00B0F0;"></div>
<div style="left:226px;top:545px;width:29px;height:15px;background:#00B0F0;"></div>
<div style="left:226px;top:560px;width:29px;height:16px;background:#00B0F0;"></div>
<div style="left:226px;top:576px;width:29px;height:15px;background:#00B0F0;"></div>
<div style="left:226px;top:591px;width:29px;height:15px;background:#00B0F0;"></div>
<div style="left:226px;top:606px;width:29px;height:16px;background:#00B0F0;"></div>
<div style="left:226px;top:622px;width:29px;height:14px;background:#974706;"></div>
<div style="left:226px;top:636px;width:29px;height:1px;background:#F6F4EC;"></div>
<div style="left:226px;top:637px;width:29px;height:15px;background:#EEECE1;"></div>
<div style="left:255px;top:530px;width:28px;height:15px;background:#00B0F0;"></div>
<div style="left:255px;top:545px;width:28px;height:15px;background:#00B0F0;"></div>
<div style="left:255px;top:560px;width:28px;height:16px;background:#00B0F0;"></div>
<div style="left:255px;top:576px;width:28px;height:15px;background:#00B0F0;"></div>
<div style="left:255px;top:591px;width:28px;height:15px;background:#00B0F0;"></div>
<div style="left:255px;top:606px;width:28px;height:16px;background:#00B0F0;"></div>
<div style="left:255px;top:622px;width:28px;height:14px;background:#974706;"></div>
<div style="left:255px;top:636px;width:28px;height:1px;background:#F6F4EC;"></div>
<div style="left:255px;top:637px;width:28px;height:15px;background:#EEECE1;"></div>
<div style="left:283px;top:530px;width:28px;height:15px;background:#00B0F0;"></div>
<div style="left:283px;top:545px;width:28px;height:15px;background:#00B0F0;"></div>
<div style="left:283px;top:560px;width:28px;height:16px;background:#00B0F0;"></div>
<div style="left:283px;top:576px;width:28px;height:15px;background:#00B0F0;"></div>
<div style="left:283px;top:591px;width:28px;height:15px;background:#00B0F0;"></div>
<div style="left:283px;top:606px;width:28px;height:16px;background:#00B0F0;"></div>
<div style="left:283px;top:622px;width:28px;height:14px;background:#974706;"></div>
<div style="left:283px;top:636px;width:28px;height:1px;background:#F6F4EC;"></div>
<div style="left:283px;top:637px;width:28px;height:15px;background:#EEECE1;"></div>
<div style="left:311px;top:530px;width:29px;height:15px;background:#00B0F0;"></div>
<div style="left:311px;top:545px;width:29px;height:15px;background:#00B0F0;"></div>
<div style="left:311px;top:560px;width:29px;height:16px;background:#00B0F0;"></div>
<div style="left:311px;top:576px;width:29px;height:15px;background:#00B0F0;"></div>
<div style="left:311px;top:591px;width:29px;height:15px;background:#00B0F0;"></div>
<div style="left:311px;top:606px;width:29px;height:16px;background:#00B0F0;"></div>
<div style="left:311px;top:622px;width:29px;height:14px;background:#974706;"></div>
<div style="left:311px;top:636px;width:29px;height:1px;background:#F6F4EC;"></div>
<div style="left:311px;top:637px;width:29px;height:15px;background:#EEECE1;"></div>
<div style="left:340px;top:530px;width:28px;height:15px;background:#00B0F0;"></div>
<div style="left:340px;top:545px;width:28px;height:15px;background:#00B0F0;"></div>
<div style="left:340px;top:560px;width:28px;height:16px;background:#00B0F0;"></div>
<div style="left:340px;top:576px;width:28px;height:15px;background:#00B0F0;"></div>
<div style="left:340px;top:591px;width:28px;height:15px;background:#00B0F0;"></div>
<div style="left:340px;top:606px;width:28px;height:16px;background:#00B0F0;"></div>
<div style="left:340px;top:622px;width:28px;height:14px;background:#974706;"></div>
<div style="left:340px;top:636px;width:28px;height:1px;background:#F6F4EC;"></div>
<div style="left:340px;top:637px;width:28px;height:15px;background:#EEECE1;"></div>
<div style="left:368px;top:530px;width:28px;height:15px;background:#00B0F0;"></div>
<div style="left:368px;top:545px;width:28px;height:15px;background:#00B0F0;"></div>
<div style="left:368px;top:560px;width:28px;height:16px;background:#00B0F0;"></div>
<div style="left:368px;top:576px;width:28px;height:15px;background:#00B0F0;"></div>
<div style="left:368px;top:591px;width:28px;height:15px;background:#00B0F0;"></div>
<div style="left:368px;top:606px;width:28px;height:16px;background:#00B0F0;"></div>
<div style="left:368px;top:622px;width:28px;height:14px;background:#974706;"></div>
<div style="left:368px;top:636px;width:28px;height:1px;background:#F6F4EC;"></div>
<div style="left:368px;top:637px;width:28px;height:15px;background:#EEECE1;"></div>
<div style="left:396px;top:530px;width:29px;height:15px;background:#00B0F0;"></div>
<div style="left:396px;top:545px;width:29px;height:15px;background:#FF0000;"></div>
<div style="left:396px;top:560px;width:29px;height:16px;background:#00B0F0;"></div>
<div style="left:396px;top:576px;width:29px;height:15px;background:#00B0F0;"></div>
<div style="left:396px;top:591px;width:29px;height:15px;background:#00B0F0;"></div>
<div style="left:396px;top:606px;width:29px;height:16px;background:#00B0F0;"></div>
<div style="left:396px;top:622px;width:29px;height:14px;background:#974706;"></div>
<div style="left:396px;top:636px;width:29px;height:1px;background:#F6F4EC;"></div>
<div style="left:396px;top:637px;width:29px;height:15px;background:#EEECE1;"></div>
<div style="left:425px;top:530px;width:28px;height:15px;background:#00B0F0;"></div>
<div style="left:425px;top:545px;width:28px;height:15px;background:#00B0F0;"></div>
<div style="left:425px;top:560px;width:28px;height:16px;background:#00B0F0;"></div>
<div style="left:425px;top:576px;width:28px;height:15px;background:#00B0F0;"></div>
<div style="left:425px;top:591px;width:28px;height:15px;background:#00B0F0;"></div>
<div style="left:425px;top:606px;width:28px;height:16px;background:#00B0F0;"></div>
<div style="left:425px;top:622px;width:28px;height:14px;background:#974706;"></div>
<div style="left:425px;top:636px;width:28px;height:1px;background:#F6F4EC;"></div>
<div style="left:425px;top:637px;width:28px;height:15px;background:#EEECE1;"></div>
<div style="left:453px;top:530px;width:28px;height:15px;background:#00B0F0;"></div>
<div style="left:453px;top:545px;width:28px;height:15px;background:#00B0F0;"></div>
<div style="left:453px;top:560px;width:28px;height:16px;background:#00B0F0;"></div>
<div style="left:453px;top:576px;width:28px;height:15px;background:#00B0F0;"></div>
<div style="left:453px;top:591px;width:28px;height:15px;background:#00B0F0;"></div>
<div style="left:453px;top:606px;width:28px;height:16px;background:#00B0F0;"></div>
<div style="left:453px;top:622px;width:28px;height:14px;background:#974706;"></div>
<div style="left:453px;top:636px;width:28px;height:1px;background:#F6F4EC;"></div>
<div style="left:453px;top:637px;width:28px;height:15px;background:#EEECE1;"></div>
<div style="left:481px;top:530px;width:29px;height:15px;background:#00B0F0;"></div>
<div style="left:481px;top:545px;width:29px;height:15px;background:#00B0F0;"></div>
<div style="left:481px;top:560px;width:29px;height:16px;background:#00B0F0;"></div>
<div style="left:481px;top:576px;width:29px;height:15px;background:#00B0F0;"></div>
<div style="left:481px;top:591px;width:29px;height:15px;background:#00B0F0;"></div>
<div style="left:481px;top:606px;width:29px;height:16px;background:#00B0F0;"></div>
<div style="left:481px;top:622px;width:29px;height:14px;background:#974706;"></div>
<div style="left:481px;top:636px;width:29px;height:1px;background:#F6F4EC;"></div>
<div style="left:481px;top:637px;width:29px;height:15px;background:#EEECE1;"></div>
<div style="left:510px;top:530px;width:28px;height:15px;background:#00B0F0;"></div>
<div style="left:510px;top:545px;width:28px;height:15px;background:#00B0F0;"></div>
<div style="left:510px;top:560px;width:28px;height:16px;background:#00B0F0;"></div>
<div style="left:510px;top:576px;width:28px;height:15px;background:#00B0F0;"></div>
<div style="left:510px;top:591px;width:28px;height:15px;background:#00B0F0;"></div>
<div style="left:510px;top:606px;width:28px;height:16px;background:#00B0F0;"></div>
<div style="left:510px;top:622px;width:28px;height:14px;background:#974706;"></div>
<div style="left:510px;top:636px;width:28px;height:1px;background:#F6F4EC;"></div>
<div style="left:510px;top:637px;width:28px;height:15px;background:#EEECE1;"></div>
<div style="left:538px;top:530px;width:28px;height:15px;background:#00B0F0;"></div>
<div style="left:538px;top:545px;width:28px;height:15px;background:#00B0F0;"></div>
<div style="left:538px;top:560px;width:28px;height:16px;background:#00B0F0;"></div>
<div style="left:538px;top:576px;width:28px;height:15px;background:#00B0F0;"></div>
<div style="left:538px;top:591px;width:28px;height:15px;background:#00B0F0;"></div>
<div style="left:538px;top:606px;width:28px;height:16px;background:#00B0F0;"></div>
<div style="left:538px;top:622px;width:28px;height:14px;background:#974706;"></div>
<div style="left:538px;top:636px;width:28px;height:1px;background:#F6F4EC;"></div>
<div style="left:538px;top:637px;width:28px;height:15px;background:#EEECE1;"></div>
<div style="left:566px;top:530px;width:29px;height:15px;background:#00B0F0;"></div>
<div style="left:566px;top:545px;width:29px;height:15px;background:#00B0F0;"></div>
<div style="left:566px;top:560px;width:29px;height:16px;background:#00B0F0;"></div>
<div style="left:566px;top:576px;width:29px;height:15px;background:#00B0F0;"></div>
<div style="left:566px;top:591px;width:29px;height:15px;background:#00B0F0;"></div>
<div style="left:566px;top:606px;width:29px;height:16px;background:#00B0F0;"></div>
<div style="left:566px;top:622px;width:29px;height:14px;background:#974706;"></div>
<div style="left:566px;top:636px;width:29px;height:1px;background:#F6F4EC;"></div>
<div style="left:566px;top:637px;width:29px;height:15px;background:#EEECE1;"></div>
<div style="left:595px;top:530px;width:28px;height:15px;background:#00B0F0;"></div>
<div style="left:595px;top:545px;width:28px;height:15px;background:#00B0F0;"></div>
<div style="left:595px;top:560px;width:28px;height:16px;background:#00B0F0;"></div>
<div style="left:595px;top:576px;width:28px;height:15px;background:#00B0F0;"></div>
<div style="left:595px;top:591px;width:28px;height:15px;background:#00B0F0;"></div>
<div style="left:595px;top:606px;width:28px;height:16px;background:#00B0F0;"></div>
<div style="left:595px;top:622px;width:28px;height:14px;background:#974706;"></div>
<div style="left:595px;top:636px;width:28px;height:1px;background:#F6F4EC;"></div>
<div style="left:595px;top:637px;width:28px;height:15px;background:#EEECE1;"></div>
<div style="left:623px;top:530px;width:29px;height:15px;background:#00B0F0;"></div>
<div style="left:623px;top:545px;width:29px;height:15px;background:#00B0F0;"></div>
<div style="left:623px;top:560px;width:29px;height:16px;background:#00B0F0;"></div>
<div style="left:623px;top:576px;width:29px;height:15px;background:#00B0F0;"></div>
<div style="left:623px;top:591px;width:29px;height:15px;background:#00B0F0;"></div>
<div style="left:623px;top:606px;width:29px;height:16px;background:#00B0F0;"></div>
<div style="left:623px;top:622px;width:29px;height:14px;background:#974706;"></div>
<div style="left:623px;top:636px;width:29px;height:1px;background:#F6F4EC;"></div>
<div style="left:623px;top:637px;width:29px;height:15px;background:#EEECE1;"></div>
<div style="left:652px;top:530px;width:28px;height:15px;background:#00B0F0;"></div>
<div style="left:652px;top:545px;width:28px;height:15px;background:#00B0F0;"></div>
<div style="left:652px;top:560px;width:28px;height:16px;background:#00B0F0;"></div>
<div style="left:652px;top:576px;width:28px;height:15px;background:#00B0F0;"></div>
<div style="left:652px;top:591px;width:28px;height:15px;background:#00B0F0;"></div>
<div style="left:652px;top:606px;width:28px;height:16px;background:#00B0F0;"></div>
<div style="left:652px;top:622px;width:28px;height:14px;background:#974706;"></div>
<div style="left:652px;top:636px;width:28px;height:1px;background:#F6F4EC;"></div>
<div style="left:652px;top:637px;width:28px;height:15px;background:#EEECE1;"></div>
<div style="left:680px;top:530px;width:28px;height:15px;background:#00B0F0;"></div>
<div style="left:680px;top:545px;width:28px;height:15px;background:#00B0F0;"></div>
<div style="left:680px;top:560px;width:28px;height:16px;background:#00B0F0;"></div>
<div style="left:680px;top:576px;width:28px;height:15px;background:#00B0F0;"></div>
<div style="left:680px;top:591px;width:28px;height:15px;background:#00B0F0;"></div>
<div style="left:680px;top:606px;width:28px;height:16px;background:#00B0F0;"></div>
<div style="left:680px;top:622px;width:28px;height:14px;background:#974706;"></div>
<div style="left:680px;top:636px;width:28px;height:1px;background:#F6F4EC;"></div>
<div style="left:680px;top:637px;width:28px;height:15px;background:#EEECE1;"></div>
<div style="left:708px;top:530px;width:29px;height:15px;background:#00B0F0;"></div>
<div style="left:708px;top:545px;width:29px;height:15px;background:#00B0F0;"></div>
<div style="left:708px;top:560px;width:29px;height:16px;background:#00B0F0;"></div>
<div style="left:708px;top:576px;width:29px;height:15px;background:#FF0000;"></div>
<div style="left:708px;top:591px;width:29px;height:15px;background:#FF0000;"></div>
<div style="left:708px;top:606px;width:29px;height:16px;background:#FF0000;"></div>
<div style="left:708px;top:622px;width:29px;height:15px;background:#FF0000;"></div>
<div style="left:708px;top:637px;width:29px;height:15px;background:#EEECE1;"></div>
<div style="left:737px;top:530px;width:28px;height:15px;background:#FF0000;"></div>
<div style="left:737px;top:545px;width:28px;height:15px;background:#FF0000;"></div>
<div style="left:737px;top:560px;width:28px;height:16px;background:#FF0000;"></div>
<div style="left:737px;top:576px;width:28px;height:15px;background:#FF0000;"></div>
<div style="left:737px;top:591px;width:28px;height:15px;background:#FF0000;"></div>
<div style="left:737px;top:606px;width:28px;height:16px;background:#FF0000;"></div>
<div style="left:737px;top:622px;width:28px;height:15px;background:#FF0000;"></div>
<div style="left:737px;top:637px;width:28px;height:15px;background:#EEECE1;"></div>
<div style="left:765px;top:530px;width:28px;height:15px;background:#00B0F0;"></div>
<div style="left:765px;top:545px;width:28px;height:15px;background:#00B0F0;"></div>
<div style="left:765px;top:560px;width:28px;height:16px;background:#00B0F0;"></div>
<div style="left:765px;top:576px;width:28px;height:15px;background:#00B0F0;"></div>
<div style="left:765px;top:591px;width:28px;height:15px;background:#00B0F0;"></div>
<div style="left:765px;top:606px;width:28px;height:16px;background:#00B0F0;"></div>
<div style="left:765px;top:622px;width:28px;height:15px;background:#FF0000;"></div>
<div style="left:765px;top:637px;width:28px;height:15px;background:#EEECE1;"></div>
<div style="left:793px;top:530px;width:28px;height:15px;background:#FF0000;"></div>
<div style="left:793px;top:545px;width:28px;height:15px;background:#00B0F0;"></div>
<div style="left:793px;top:560px;width:28px;height:16px;background:#00B0F0;"></div>
<div style="left:793px;top:576px;width:28px;height:15px;background:#00B0F0;"></div>
<div style="left:793px;top:591px;width:28px;height:15px;background:#00B0F0;"></div>
<div style="left:793px;top:606px;width:28px;height:16px;background:#00B0F0;"></div>
<div style="left:793px;top:622px;width:28px;height:14px;background:#974706;"></div>
<div style="left:793px;top:636px;width:28px;height:1px;background:#F6F4EC;"></div>
<div style="left:793px;top:637px;width:28px;height:15px;background:#EEECE1;"></div>
<div style="left:821px;top:530px;width:29px;height:15px;background:#00B0F0;"></div>
<div style="left:821px;top:545px;width:29px;height:15px;background:#00B0F0;"></div>
<div style="left:821px;top:560px;width:29px;height:16px;background:#00B0F0;"></div>
<div style="left:821px;top:576px;width:29px;height:15px;background:#00B0F0;"></div>
<div style="left:821px;top:591px;width:29px;height:15px;background:#00B0F0;"></div>
<div style="left:821px;top:606px;width:29px;height:16px;background:#00B0F0;"></div>
<div style="left:821px;top:622px;width:29px;height:14px;background:#974706;"></div>
<div style="left:821px;top:636px;width:29px;height:1px;background:#F6F4EC;"></div>
<div style="left:821px;top:637px;width:29px;height:15px;background:#EEECE1;"></div>
<div style="left:850px;top:530px;width:28px;height:15px;background:#00B0F0;"></div>
<div style="left:850px;top:545px;width:28px;height:15px;background:#00B0F0;"></div>
<div style="left:850px;top:560px;width:28px;height:16px;background:#00B0F0;"></div>
<div style="left:850px;top:576px;width:28px;height:15px;background:#00B0F0;"></div>
<div style="left:850px;top:591px;width:28px;height:15px;background:#00B0F0;"></div>
<div style="left:850px;top:606px;width:28px;height:16px;background:#00B0F0;"></div>
<div style="left:850px;top:622px;width:28px;height:14px;background:#974706;"></div>
<div style="left:850px;top:636px;width:28px;height:1px;background:#F6F4EC;"></div>
<div style="left:850px;top:637px;width:28px;height:15px;background:#EEECE1;"></div>
<div style="left:878px;top:530px;width:29px;height:15px;background:#00B0F0;"></div>
<div style="left:878px;top:545px;width:29px;height:15px;background:#00B0F0;"></div>
<div style="left:878px;top:560px;width:29px;height:16px;background:#00B0F0;"></div>
<div style="left:878px;top:576px;width:29px;height:15px;background:#00B0F0;"></div>
<div style="left:878px;top:591px;width:29px;height:15px;background:#00B0F0;"></div>
<div style="left:878px;top:606px;width:29px;height:16px;background:#00B0F0;"></div>
<div style="left:878px;top:622px;width:29px;height:14px;background:#974706;"></div>
<div style="left:878px;top:636px;width:29px;height:1px;background:#F6F4EC;"></div>
<div style="left:878px;top:637px;width:29px;height:15px;background:#EEECE1;"></div>
<div style="left:907px;top:530px;width:28px;height:15px;background:#00B0F0;"></div>
<div style="left:907px;top:545px;width:28px;height:15px;background:#00B0F0;"></div>
<div style="left:907px;top:560px;width:28px;height:16px;background:#00B0F0;"></div>
<div style="left:907px;top:576px;width:28px;height:15px;background:#00B0F0;"></div>
<div style="left:907px;top:591px;width:28px;height:15px;background:#00B0F0;"></div>
<div style="left:907px;top:606px;width:28px;height:16px;background:#00B0F0;"></div>
<div style="left:907px;top:622px;width:28px;height:14px;background:#974706;"></div>
<div style="left:907px;top:636px;width:28px;height:1px;background:#F6F4EC;"></div>
<div style="left:907px;top:637px;width:28px;height:15px;background:#EEECE1;"></div>
<div style="left:935px;top:530px;width:28px;height:15px;background:#00B0F0;"></div>
<div style="left:935px;top:545px;width:28px;height:15px;background:#00B0F0;"></div>
<div style="left:935px;top:560px;width:28px;height:16px;background:#00B0F0;"></div>
<div style="left:935px;top:576px;width:28px;height:15px;background:#00B0F0;"></div>
<div style="left:935px;top:591px;width:28px;height:15px;background:#00B0F0;"></div>
<div style="left:935px;top:606px;width:28px;height:16px;background:#00B0F0;"></div>
<div style="left:935px;top:622px;width:28px;height:14px;background:#974706;"></div>
<div style="left:935px;top:636px;width:28px;height:1px;background:#F6F4EC;"></div>
<div style="left:935px;top:637px;width:28px;height:15px;background:#EEECE1;"></div>
<div style="left:963px;top:530px;width:29px;height:15px;background:#00B0F0;"></div>
<div style="left:963px;top:545px;width:29px;height:15px;background:#00B0F0;"></div>
<div style="left:963px;top:560px;width:29px;height:16px;background:#00B0F0;"></div>
<div style="left:963px;top:576px;width:29px;height:15px;background:#00B0F0;"></div>
<div style="left:963px;top:591px;width:29px;height:15px;background:#00B0F0;"></div>
<div style="left:963px;top:606px;width:29px;height:16px;background:#00B0F0;"></div>
<div style="left:963px;top:622px;width:29px;height:14px;background:#974706;"></div>
<div style="left:963px;top:636px;width:29px;height:1px;background:#F6F4EC;"></div>
<div style="left:963px;top:637px;width:29px;height:15px;background:#EEECE1;"></div>
<div style="left:992px;top:530px;width:28px;height:15px;background:#00B0F0;"></div>
<div style="left:992px;top:545px;width:28px;height:15px;background:#00B0F0;"></div>
<div style="left:992px;top:560px;width:28px;height:16px;background:#00B0F0;"></div>
<div style="left:992px;top:576px;width:28px;height:15px;background:#00B0F0;"></div>
<div style="left:992px;top:591px;width:28px;height:15px;background:#00B0F0;"></div>
<div style="left:992px;top:606px;width:28px;height:16px;background:#00B0F0;"></div>
<div style="left:992px;top:622px;width:28px;height:14px;background:#974706;"></div>
<div style="left:992px;top:636px;width:28px;height:1px;background:#F6F4EC;"></div>
<div style="left:992px;top:637px;width:28px;height:15px;background:#EEECE1;"></div>
<div style="left:715px;top:577px;width:6px;height:14px;background:#FFFF00;"></div>
<div style="left:715px;top:592px;width:6px;height:14px;background:#FFFF00;"></div>
<div style="left:715px;top:607px;width:6px;height:15px;background:#FFFF00;"></div>
<div style="left:715px;top:623px;width:6px;height:14px;background:#FFFF00;"></div>
<div style="left:744px;top:531px;width:6px;height:14px;background:#FFFF00;"></div>
<div style="left:744px;top:546px;width:6px;height:14px;background:#FFFF00;"></div>
<div style="left:744px;top:561px;width:6px;height:15px;background:#FFFF00;"></div>
<div style="left:744px;top:577px;width:6px;height:14px;background:#FFFF00;"></div>
<div style="left:744px;top:592px;width:6px;height:14px;background:#FFFF00;"></div>
<div style="left:744px;top:607px;width:12px;height:15px;background:#FFFF00;"></div>
<div style="left:744px;top:623px;width:12px;height:14px;background:#FFFF00;"></div>
<div style="left:58px;top:513px;width:963px;height:1px;background:#000000;"></div>
<div style="left:58px;top:530px;width:963px;height:1px;background:#000000;"></div>
<div style="left:58px;top:530px;width:963px;height:1px;background:#000000;"></div>
<div style="left:58px;top:545px;width:963px;height:1px;background:#000000;"></div>
<div style="left:58px;top:560px;width:963px;height:1px;background:#000000;"></div>
<div style="left:58px;top:576px;width:963px;height:1px;background:#000000;"></div>
<div style="left:58px;top:591px;width:963px;height:1px;background:#000000;"></div>
<div style="left:58px;top:606px;width:963px;height:1px;background:#000000;"></div>
<div style="left:58px;top:622px;width:963px;height:1px;background:#000000;"></div>
<div style="left:58px;top:637px;width:963px;height:1px;background:#000000;"></div>
<div style="left:58px;top:652px;width:963px;height:1px;background:#000000;"></div>
<div style="left:58px;top:513px;width:1px;height:18px;background:#000000;"></div>
<div style="left:170px;top:513px;width:1px;height:18px;background:#000000;"></div>
<div style="left:226px;top:513px;width:1px;height:18px;background:#000000;"></div>
<div style="left:340px;top:513px;width:1px;height:18px;background:#000000;"></div>
<div style="left:481px;top:513px;width:1px;height:18px;background:#000000;"></div>
<div style="left:595px;top:513px;width:1px;height:18px;background:#000000;"></div>
<div style="left:737px;top:513px;width:1px;height:18px;background:#000000;"></div>
<div style="left:850px;top:513px;width:1px;height:18px;background:#000000;"></div>
<div style="left:963px;top:513px;width:1px;height:18px;background:#000000;"></div>
<div style="left:1020px;top:513px;width:1px;height:18px;background:#000000;"></div>
<div style="left:58px;top:530px;width:1px;height:123px;background:#000000;"></div>
<div style="left:170px;top:530px;width:1px;height:123px;background:#000000;"></div>
<div style="left:198px;top:530px;width:1px;height:123px;background:#000000;"></div>
<div style="left:226px;top:530px;width:1px;height:123px;background:#000000;"></div>
<div style="left:255px;top:530px;width:1px;height:123px;background:#000000;"></div>
<div style="left:283px;top:530px;width:1px;height:123px;background:#000000;"></div>
<div style="left:311px;top:530px;width:1px;height:123px;background:#000000;"></div>
<div style="left:340px;top:530px;width:1px;height:123px;background:#000000;"></div>
<div style="left:368px;top:530px;width:1px;height:123px;background:#000000;"></div>
<div style="left:396px;top:530px;width:1px;height:123px;background:#000000;"></div>
<div style="left:425px;top:530px;width:1px;height:123px;background:#000000;"></div>
<div style="left:453px;top:530px;width:1px;height:123px;background:#000000;"></div>
<div style="left:481px;top:530px;width:1px;height:123px;background:#000000;"></div>
<div style="left:510px;top:530px;width:1px;height:123px;background:#000000;"></div>
<div style="left:538px;top:530px;width:1px;height:123px;background:#000000;"></div>
<div style="left:566px;top:530px;width:1px;height:123px;background:#000000;"></div>
<div style="left:595px;top:530px;width:1px;height:123px;background:#000000;"></div>
<div style="left:623px;top:530px;width:1px;height:123px;background:#000000;"></div>
<div style="left:652px;top:530px;width:1px;height:123px;background:#000000;"></div>
<div style="left:680px;top:530px;width:1px;height:123px;background:#000000;"></div>
<div style="left:708px;top:530px;width:1px;height:123px;background:#000000;"></div>
<div style="left:737px;top:530px;width:1px;height:123px;background:#000000;"></div>
<div style="left:765px;top:530px;width:1px;height:123px;background:#000000;"></div>
<div style="left:793px;top:530px;width:1px;height:123px;background:#000000;"></div>
<div style="left:821px;top:530px;width:1px;height:123px;background:#000000;"></div>
<div style="left:850px;top:530px;width:1px;height:123px;background:#000000;"></div>
<div style="left:878px;top:530px;width:1px;height:123px;background:#000000;"></div>
<div style="left:907px;top:530px;width:1px;height:123px;background:#000000;"></div>
<div style="left:935px;top:530px;width:1px;height:123px;background:#000000;"></div>
<div style="left:963px;top:530px;width:1px;height:123px;background:#000000;"></div>
<div style="left:992px;top:530px;width:1px;height:123px;background:#000000;"></div>
<div style="left:1020px;top:530px;width:1px;height:123px;background:#000000;"></div>
<div style="left:170px;top:529px;width:28px;height:1px;background:#00B0F0;"></div>
<div style="left:170px;top:621px;width:28px;height:1px;background:#974706;"></div>
<div style="left:198px;top:529px;width:28px;height:1px;background:#00B0F0;"></div>
<div style="left:198px;top:621px;width:28px;height:1px;background:#974706;"></div>
<div style="left:226px;top:529px;width:29px;height:1px;background:#00B0F0;"></div>
<div style="left:226px;top:621px;width:29px;height:1px;background:#974706;"></div>
<div style="left:255px;top:529px;width:28px;height:1px;background:#00B0F0;"></div>
<div style="left:255px;top:621px;width:28px;height:1px;background:#974706;"></div>
<div style="left:283px;top:529px;width:28px;height:1px;background:#00B0F0;"></div>
<div style="left:283px;top:621px;width:28px;height:1px;background:#974706;"></div>
<div style="left:311px;top:529px;width:29px;height:1px;background:#00B0F0;"></div>
<div style="left:311px;top:621px;width:29px;height:1px;background:#974706;"></div>
<div style="left:340px;top:529px;width:28px;height:1px;background:#00B0F0;"></div>
<div style="left:340px;top:621px;width:28px;height:1px;background:#974706;"></div>
<div style="left:368px;top:529px;width:28px;height:1px;background:#00B0F0;"></div>
<div style="left:368px;top:621px;width:28px;height:1px;background:#974706;"></div>
<div style="left:396px;top:529px;width:29px;height:1px;background:#00B0F0;"></div>
<div style="left:396px;top:621px;width:29px;height:1px;background:#974706;"></div>
<div style="left:425px;top:529px;width:28px;height:1px;background:#00B0F0;"></div>
<div style="left:425px;top:621px;width:28px;height:1px;background:#974706;"></div>
<div style="left:453px;top:529px;width:28px;height:1px;background:#00B0F0;"></div>
<div style="left:453px;top:621px;width:28px;height:1px;background:#974706;"></div>
<div style="left:481px;top:529px;width:29px;height:1px;background:#00B0F0;"></div>
<div style="left:481px;top:621px;width:29px;height:1px;background:#974706;"></div>
<div style="left:510px;top:529px;width:28px;height:1px;background:#00B0F0;"></div>
<div style="left:510px;top:621px;width:28px;height:1px;background:#974706;"></div>
<div style="left:538px;top:529px;width:28px;height:1px;background:#00B0F0;"></div>
<div style="left:538px;top:621px;width:28px;height:1px;background:#974706;"></div>
<div style="left:566px;top:529px;width:29px;height:1px;background:#00B0F0;"></div>
<div style="left:566px;top:621px;width:29px;height:1px;background:#974706;"></div>
<div style="left:595px;top:529px;width:28px;height:1px;background:#00B0F0;"></div>
<div style="left:595px;top:621px;width:28px;height:1px;background:#974706;"></div>
<div style="left:623px;top:529px;width:29px;height:1px;background:#00B0F0;"></div>
<div style="left:623px;top:621px;width:29px;height:1px;background:#974706;"></div>
<div style="left:652px;top:529px;width:28px;height:1px;background:#00B0F0;"></div>
<div style="left:652px;top:621px;width:28px;height:1px;background:#974706;"></div>
<div style="left:680px;top:529px;width:28px;height:1px;background:#00B0F0;"></div>
<div style="left:680px;top:621px;width:28px;height:1px;background:#974706;"></div>
<div style="left:708px;top:529px;width:29px;height:1px;background:#00B0F0;"></div>
<div style="left:708px;top:621px;width:29px;height:1px;background:#FF0000;"></div>
<div style="left:737px;top:529px;width:28px;height:1px;background:#FF0000;"></div>
<div style="left:737px;top:621px;width:28px;height:1px;background:#FF0000;"></div>
<div style="left:765px;top:529px;width:28px;height:1px;background:#00B0F0;"></div>
<div style="left:765px;top:621px;width:28px;height:1px;background:#FF0000;"></div>
<div style="left:793px;top:529px;width:28px;height:1px;background:#FF0000;"></div>
<div style="left:793px;top:621px;width:28px;height:1px;background:#974706;"></div>
<div style="left:821px;top:529px;width:29px;height:1px;background:#00B0F0;"></div>
<div style="left:821px;top:621px;width:29px;height:1px;background:#974706;"></div>
<div style="left:850px;top:529px;width:28px;height:1px;background:#00B0F0;"></div>
<div style="left:850px;top:621px;width:28px;height:1px;background:#974706;"></div>
<div style="left:878px;top:529px;width:29px;height:1px;background:#00B0F0;"></div>
<div style="left:878px;top:621px;width:29px;height:1px;background:#974706;"></div>
<div style="left:907px;top:529px;width:28px;height:1px;background:#00B0F0;"></div>
<div style="left:907px;top:621px;width:28px;height:1px;background:#974706;"></div>
<div style="left:935px;top:529px;width:28px;height:1px;background:#00B0F0;"></div>
<div style="left:935px;top:621px;width:28px;height:1px;background:#974706;"></div>
<div style="left:963px;top:529px;width:29px;height:1px;background:#00B0F0;"></div>
<div style="left:963px;top:621px;width:29px;height:1px;background:#974706;"></div>
<div style="left:992px;top:529px;width:28px;height:1px;background:#00B0F0;"></div>
<div style="left:992px;top:621px;width:28px;height:1px;background:#974706;"></div>
<div style="left:58px;top:621px;width:112px;height:1px;background:#974706;"></div>
<div style="left:58px;top:529px;width:1px;height:1px;background:#000000;"></div>
<div style="left:170px;top:529px;width:1px;height:1px;background:#000000;"></div>
<div style="left:226px;top:529px;width:1px;height:1px;background:#000000;"></div>
<div style="left:340px;top:529px;width:1px;height:1px;background:#000000;"></div>
<div style="left:481px;top:529px;width:1px;height:1px;background:#000000;"></div>
<div style="left:595px;top:529px;width:1px;height:1px;background:#000000;"></div>
<div style="left:737px;top:529px;width:1px;height:1px;background:#000000;"></div>
<div style="left:850px;top:529px;width:1px;height:1px;background:#000000;"></div>
<div style="left:963px;top:529px;width:1px;height:1px;background:#000000;"></div>
<div style="left:1020px;top:529px;width:1px;height:1px;background:#000000;"></div>
<div style="left:58px;top:621px;width:1px;height:1px;background:#000000;"></div>
<div style="left:170px;top:621px;width:1px;height:1px;background:#000000;"></div>
<div style="left:198px;top:621px;width:1px;height:1px;background:#000000;"></div>
<div style="left:226px;top:621px;width:1px;height:1px;background:#000000;"></div>
<div style="left:255px;top:621px;width:1px;height:1px;background:#000000;"></div>
<div style="left:283px;top:621px;width:1px;height:1px;background:#000000;"></div>
<div style="left:311px;top:621px;width:1px;height:1px;background:#000000;"></div>
<div style="left:340px;top:621px;width:1px;height:1px;background:#000000;"></div>
<div style="left:368px;top:621px;width:1px;height:1px;background:#000000;"></div>
<div style="left:396px;top:621px;width:1px;height:1px;background:#000000;"></div>
<div style="left:425px;top:621px;width:1px;height:1px;background:#000000;"></div>
<div style="left:453px;top:621px;width:1px;height:1px;background:#000000;"></div>
<div style="left:481px;top:621px;width:1px;height:1px;background:#000000;"></div>
<div style="left:510px;top:621px;width:1px;height:1px;background:#000000;"></div>
<div style="left:538px;top:621px;width:1px;height:1px;background:#000000;"></div>
<div style="left:566px;top:621px;width:1px;height:1px;background:#000000;"></div>
<div style="left:595px;top:621px;width:1px;height:1px;background:#000000;"></div>
<div style="left:623px;top:621px;width:1px;height:1px;background:#000000;"></div>
<div style="left:652px;top:621px;width:1px;height:1px;background:#000000;"></div>
<div style="left:680px;top:621px;width:1px;height:1px;background:#000000;"></div>
<div style="left:708px;top:621px;width:1px;height:1px;background:#000000;"></div>
<div style="left:737px;top:621px;width:1px;height:1px;background:#000000;"></div>
<div style="left:765px;top:621px;width:1px;height:1px;background:#000000;"></div>
<div style="left:793px;top:621px;width:1px;height:1px;background:#000000;"></div>
<div style="left:821px;top:621px;width:1px;height:1px;background:#000000;"></div>
<div style="left:850px;top:621px;width:1px;height:1px;background:#000000;"></div>
<div style="left:878px;top:621px;width:1px;height:1px;background:#000000;"></div>
<div style="left:907px;top:621px;width:1px;height:1px;background:#000000;"></div>
<div style="left:935px;top:621px;width:1px;height:1px;background:#000000;"></div>
<div style="left:963px;top:621px;width:1px;height:1px;background:#000000;"></div>
<div style="left:992px;top:621px;width:1px;height:1px;background:#000000;"></div>
<div style="left:1020px;top:621px;width:1px;height:1px;background:#000000;"></div>
<div style="left:794px;top:530px;width:27px;height:1px;background:repeating-linear-gradient(90deg,#fff 0 3px,transparent 3px 5px);"></div>
<div style="left:65px;top:87px;width:102px;height:1px;background:#000000;"></div>
<div style="left:706px;top:87px;width:203px;height:1px;background:#000000;"></div>
<div style="left:281px;top:674px;width:42px;height:25px;background:#00B0F0;box-shadow:inset 0 0 0 3px #4F81BD;"></div>
<div style="left:394px;top:674px;width:38px;height:25px;background:#974706;box-shadow:inset 0 0 0 3px #F79646;"></div>
<div style="left:528px;top:674px;width:40px;height:25px;background:#FF0000;box-shadow:inset 0 0 0 3px #385D8A;"></div>
<div style="left:680px;top:674px;width:45px;height:25px;background:#8064A2;box-shadow:inset 0 0 0 3px #385D8A;"></div>
<div style="left:66px;top:0px;width:1px;height:21px;background:#BFBFBF;"></div>
<div style="left:43px;top:20px;width:24px;height:1px;background:#BFBFBF;"></div>
<div style="left:1030px;top:0px;width:1px;height:21px;background:#BFBFBF;"></div>
<div style="left:1030px;top:20px;width:17px;height:1px;background:#BFBFBF;"></div>
<div style="left:29px;top:160px;width:24px;height:24px;background:#FFFFFF;border:1px solid #8A8A8A;border-radius:4px;box-sizing:border-box;"></div>
<div style="left:38px;top:167px;width:2px;height:2px;background:#333333;"></div>
<div style="left:38px;top:171px;width:2px;height:2px;background:#333333;"></div>
<div style="left:38px;top:175px;width:2px;height:2px;background:#333333;"></div>
<div style="left:43px;top:167px;width:2px;height:2px;background:#333333;"></div>
<div style="left:43px;top:171px;width:2px;height:2px;background:#333333;"></div>
<div style="left:43px;top:175px;width:2px;height:2px;background:#333333;"></div>
<div style="left:938px;top:242px;width:23px;height:32px;background:#FFFFFF;border:1px solid #8A8A8A;border-radius:4px;box-sizing:border-box;"></div>
<div style="left:944px;top:257px;width:11px;height:1px;background:#333;"></div>
<div style="left:949px;top:252px;width:1px;height:11px;background:#333;"></div>
<div style="left:478px;top:336px;width:32px;height:23px;background:#FFFFFF;border:1px solid #8A8A8A;border-radius:4px;box-sizing:border-box;"></div>
<div style="left:488px;top:347px;width:11px;height:1px;background:#333;"></div>
<div style="left:493px;top:342px;width:1px;height:11px;background:#333;"></div>
<div style="left:936px;top:334px;width:24px;height:24px;background:#FFFFFF;border:1px solid #8A8A8A;border-radius:4px;box-sizing:border-box;"></div>
<div style="left:943px;top:341px;width:5px;height:1px;background:#333;"></div>
<div style="left:943px;top:341px;width:1px;height:5px;background:#333;"></div>
<div style="left:948px;top:350px;width:5px;height:1px;background:#333;"></div>
<div style="left:952px;top:346px;width:1px;height:5px;background:#333;"></div>
<div class="t" style="left:175px;top:224.03px;font-size:10px;line-height:10px;">25</div>
<div class="t" style="left:175px;top:239.03px;font-size:10px;line-height:10px;">26</div>
<div class="t" style="left:175px;top:254.53px;font-size:10px;line-height:10px;">27</div>
<div class="t" style="left:175px;top:270.04px;font-size:10px;line-height:10px;">28</div>
<div class="t" style="left:175px;top:285.04px;font-size:10px;line-height:10px;">29</div>
<div class="t" style="left:175px;top:300.54px;font-size:10px;line-height:10px;">30</div>
<div class="t" style="left:175px;top:316.04px;font-size:10px;line-height:10px;">1</div>
<div class="t" style="left:206px;top:208.53px;font-size:10px;line-height:10px;">1</div>
<div class="t" style="left:206px;top:224.03px;font-size:10px;line-height:10px;">2</div>
<div class="t" style="left:206px;top:239.03px;font-size:10px;line-height:10px;">3</div>
<div class="t" style="left:206px;top:254.53px;font-size:10px;line-height:10px;">4</div>
<div class="t" style="left:206px;top:270.04px;font-size:10px;line-height:10px;">5</div>
<div class="t" style="left:206px;top:285.04px;font-size:10px;line-height:10px;">6</div>
<div class="t" style="left:206px;top:300.54px;font-size:10px;line-height:10px;">7</div>
<div class="t" style="left:206px;top:316.04px;font-size:10px;line-height:10px;">2</div>
<div class="t" style="left:224px;top:208.53px;font-size:10px;line-height:10px;">8</div>
<div class="t" style="left:224px;top:224.03px;font-size:10px;line-height:10px;">9</div>
<div class="t" style="left:224px;top:239.03px;font-size:10px;line-height:10px;">10</div>
<div class="t" style="left:224px;top:254.53px;font-size:10px;line-height:10px;">11</div>
<div class="t" style="left:224px;top:270.04px;font-size:10px;line-height:10px;">12</div>
<div class="t" style="left:224px;top:285.04px;font-size:10px;line-height:10px;">13</div>
<div class="t" style="left:224px;top:300.54px;font-size:10px;line-height:10px;">14</div>
<div class="t" style="left:224px;top:316.04px;font-size:10px;line-height:10px;">3</div>
<div class="t" style="left:252px;top:208.53px;font-size:10px;line-height:10px;">15</div>
<div class="t" style="left:252px;top:224.03px;font-size:10px;line-height:10px;">16</div>
<div class="t" style="left:252px;top:239.03px;font-size:10px;line-height:10px;">17</div>
<div class="t" style="left:252px;top:254.53px;font-size:10px;line-height:10px;">18</div>
<div class="t" style="left:252px;top:270.04px;font-size:10px;line-height:10px;">19</div>
<div class="t" style="left:252px;top:285.04px;font-size:10px;line-height:10px;">20</div>
<div class="t" style="left:252px;top:300.54px;font-size:10px;line-height:10px;">21</div>
<div class="t" style="left:252px;top:316.04px;font-size:10px;line-height:10px;">4</div>
<div class="t" style="left:280px;top:208.53px;font-size:10px;line-height:10px;">22</div>
<div class="t" style="left:280px;top:224.03px;font-size:10px;line-height:10px;">23</div>
<div class="t" style="left:280px;top:239.03px;font-size:10px;line-height:10px;">24</div>
<div class="t" style="left:280px;top:254.53px;font-size:10px;line-height:10px;">25</div>
<div class="t" style="left:280px;top:270.04px;font-size:10px;line-height:10px;">26</div>
<div class="t" style="left:280px;top:285.04px;font-size:10px;line-height:10px;">27</div>
<div class="t" style="left:280px;top:300.54px;font-size:10px;line-height:10px;">28</div>
<div class="t" style="left:280px;top:316.04px;font-size:10px;line-height:10px;">5</div>
<div class="t" style="left:309px;top:208.53px;font-size:10px;line-height:10px;">29</div>
<div class="t" style="left:309px;top:224.03px;font-size:10px;line-height:10px;">30</div>
<div class="t" style="left:309px;top:239.03px;font-size:10px;line-height:10px;">31</div>
<div class="t" style="left:309px;top:254.53px;font-size:10px;line-height:10px;">1</div>
<div class="t" style="left:309px;top:270.04px;font-size:10px;line-height:10px;">2</div>
<div class="t" style="left:309px;top:285.04px;font-size:10px;line-height:10px;">3</div>
<div class="t" style="left:309px;top:300.54px;font-size:10px;line-height:10px;">4</div>
<div class="t" style="left:337px;top:208.53px;font-size:10px;line-height:10px;">5</div>
<div class="t" style="left:337px;top:224.03px;font-size:10px;line-height:10px;">6</div>
<div class="t" style="left:337px;top:239.03px;font-size:10px;line-height:10px;">7</div>
<div class="t" style="left:337px;top:254.53px;font-size:10px;line-height:10px;">8</div>
<div class="t" style="left:337px;top:270.04px;font-size:10px;line-height:10px;">9</div>
<div class="t" style="left:337px;top:285.04px;font-size:10px;line-height:10px;">10</div>
<div class="t" style="left:337px;top:300.54px;font-size:10px;line-height:10px;">11</div>
<div class="t" style="left:366px;top:208.53px;font-size:10px;line-height:10px;">12</div>
<div class="t" style="left:366px;top:224.03px;font-size:10px;line-height:10px;">13</div>
<div class="t" style="left:366px;top:239.03px;font-size:10px;line-height:10px;">14</div>
<div class="t" style="left:366px;top:254.53px;font-size:10px;line-height:10px;">15</div>
<div class="t" style="left:366px;top:270.04px;font-size:10px;line-height:10px;">16</div>
<div class="t" style="left:366px;top:285.04px;font-size:10px;line-height:10px;">17</div>
<div class="t" style="left:366px;top:300.54px;font-size:10px;line-height:10px;">18</div>
<div class="t" style="left:366px;top:316.04px;font-size:10px;line-height:10px;">6</div>
<div class="t" style="left:395px;top:208.53px;font-size:10px;line-height:10px;">19</div>
<div class="t" style="left:395px;top:224.03px;font-size:10px;line-height:10px;">20</div>
<div class="t" style="left:395px;top:239.03px;font-size:10px;line-height:10px;">21</div>
<div class="t" style="left:395px;top:254.53px;font-size:10px;line-height:10px;">22</div>
<div class="t" style="left:395px;top:270.04px;font-size:10px;line-height:10px;">23</div>
<div class="t" style="left:395px;top:285.04px;font-size:10px;line-height:10px;">24</div>
<div class="t" style="left:395px;top:300.54px;font-size:10px;line-height:10px;">25</div>
<div class="t" style="left:395px;top:316.04px;font-size:10px;line-height:10px;">7</div>
<div class="t" style="left:422px;top:208.53px;font-size:10px;line-height:10px;">26</div>
<div class="t" style="left:422px;top:224.03px;font-size:10px;line-height:10px;">27</div>
<div class="t" style="left:422px;top:239.03px;font-size:10px;line-height:10px;">28</div>
<div class="t" style="left:422px;top:254.53px;font-size:10px;line-height:10px;">29</div>
<div class="t" style="left:422px;top:270.04px;font-size:10px;line-height:10px;">30</div>
<div class="t" style="left:422px;top:285.04px;font-size:10px;line-height:10px;">31</div>
<div class="t" style="left:422px;top:300.54px;font-size:10px;line-height:10px;">1</div>
<div class="t" style="left:422px;top:316.04px;font-size:10px;line-height:10px;">8</div>
<div class="t" style="left:450px;top:208.53px;font-size:10px;line-height:10px;">2</div>
<div class="t" style="left:450px;top:224.03px;font-size:10px;line-height:10px;">3</div>
<div class="t" style="left:450px;top:239.03px;font-size:10px;line-height:10px;">4</div>
<div class="t" style="left:450px;top:254.53px;font-size:10px;line-height:10px;">5</div>
<div class="t" style="left:450px;top:270.04px;font-size:10px;line-height:10px;">6</div>
<div class="t" style="left:450px;top:285.04px;font-size:10px;line-height:10px;">7</div>
<div class="t" style="left:450px;top:300.54px;font-size:10px;line-height:10px;">8</div>
<div class="t" style="left:450px;top:316.04px;font-size:10px;line-height:10px;">9</div>
<div class="t" style="left:479px;top:208.53px;font-size:10px;line-height:10px;">9</div>
<div class="t" style="left:479px;top:224.03px;font-size:10px;line-height:10px;">10</div>
<div class="t" style="left:479px;top:239.03px;font-size:10px;line-height:10px;">11</div>
<div class="t" style="left:479px;top:254.53px;font-size:10px;line-height:10px;">12</div>
<div class="t" style="left:479px;top:270.04px;font-size:10px;line-height:10px;">13</div>
<div class="t" style="left:479px;top:285.04px;font-size:10px;line-height:10px;">14</div>
<div class="t" style="left:479px;top:300.54px;font-size:10px;line-height:10px;">15</div>
<div class="t" style="left:479px;top:316.04px;font-size:10px;line-height:10px;">10</div>
<div class="t" style="left:507px;top:208.53px;font-size:10px;line-height:10px;">16</div>
<div class="t" style="left:507px;top:224.03px;font-size:10px;line-height:10px;">17</div>
<div class="t" style="left:507px;top:239.03px;font-size:10px;line-height:10px;">18</div>
<div class="t" style="left:507px;top:254.53px;font-size:10px;line-height:10px;">19</div>
<div class="t" style="left:507px;top:270.04px;font-size:10px;line-height:10px;">20</div>
<div class="t" style="left:507px;top:285.04px;font-size:10px;line-height:10px;">21</div>
<div class="t" style="left:507px;top:300.54px;font-size:10px;line-height:10px;">22</div>
<div class="t" style="left:507px;top:316.04px;font-size:10px;line-height:10px;">11</div>
<div class="t" style="left:535px;top:208.53px;font-size:10px;line-height:10px;">23</div>
<div class="t" style="left:535px;top:224.03px;font-size:10px;line-height:10px;">24</div>
<div class="t" style="left:535px;top:239.03px;font-size:10px;line-height:10px;">25</div>
<div class="t" style="left:535px;top:254.53px;font-size:10px;line-height:10px;">26</div>
<div class="t" style="left:535px;top:270.04px;font-size:10px;line-height:10px;">27</div>
<div class="t" style="left:535px;top:285.04px;font-size:10px;line-height:10px;">28</div>
<div class="t" style="left:535px;top:300.54px;font-size:10px;line-height:10px;">1</div>
<div class="t" style="left:535px;top:316.04px;font-size:10px;line-height:10px;">12</div>
<div class="t" style="left:564px;top:208.53px;font-size:10px;line-height:10px;">2</div>
<div class="t" style="left:564px;top:224.03px;font-size:10px;line-height:10px;">3</div>
<div class="t" style="left:564px;top:239.03px;font-size:10px;line-height:10px;">4</div>
<div class="t" style="left:564px;top:254.53px;font-size:10px;line-height:10px;">5</div>
<div class="t" style="left:564px;top:270.04px;font-size:10px;line-height:10px;">6</div>
<div class="t" style="left:564px;top:285.04px;font-size:10px;line-height:10px;">7</div>
<div class="t" style="left:564px;top:300.54px;font-size:10px;line-height:10px;">8</div>
<div class="t" style="left:564px;top:316.04px;font-size:10px;line-height:10px;">13</div>
<div class="t" style="left:592px;top:208.53px;font-size:10px;line-height:10px;">9</div>
<div class="t" style="left:592px;top:224.03px;font-size:10px;line-height:10px;">10</div>
<div class="t" style="left:592px;top:239.03px;font-size:10px;line-height:10px;">11</div>
<div class="t" style="left:592px;top:254.53px;font-size:10px;line-height:10px;">12</div>
<div class="t" style="left:592px;top:270.04px;font-size:10px;line-height:10px;">13</div>
<div class="t" style="left:592px;top:285.04px;font-size:10px;line-height:10px;">14</div>
<div class="t" style="left:592px;top:300.54px;font-size:10px;line-height:10px;">15</div>
<div class="t" style="left:592px;top:316.04px;font-size:10px;line-height:10px;">14</div>
<div class="t" style="left:621px;top:208.53px;font-size:10px;line-height:10px;">16</div>
<div class="t" style="left:621px;top:224.03px;font-size:10px;line-height:10px;">17</div>
<div class="t" style="left:621px;top:239.03px;font-size:10px;line-height:10px;">18</div>
<div class="t" style="left:621px;top:254.53px;font-size:10px;line-height:10px;">19</div>
<div class="t" style="left:621px;top:270.04px;font-size:10px;line-height:10px;">20</div>
<div class="t" style="left:621px;top:285.04px;font-size:10px;line-height:10px;">21</div>
<div class="t" style="left:621px;top:300.54px;font-size:10px;line-height:10px;">22</div>
<div class="t" style="left:621px;top:316.04px;font-size:10px;line-height:10px;">15</div>
<div class="t" style="left:648px;top:208.53px;font-size:10px;line-height:10px;">23</div>
<div class="t" style="left:648px;top:224.03px;font-size:10px;line-height:10px;">24</div>
<div class="t" style="left:648px;top:239.03px;font-size:10px;line-height:10px;">25</div>
<div class="t" style="left:648px;top:254.53px;font-size:10px;line-height:10px;">26</div>
<div class="t" style="left:648px;top:270.04px;font-size:10px;line-height:10px;">27</div>
<div class="t" style="left:648px;top:285.04px;font-size:10px;line-height:10px;">28</div>
<div class="t" style="left:648px;top:300.54px;font-size:10px;line-height:10px;">29</div>
<div class="t" style="left:648px;top:316.04px;font-size:10px;line-height:10px;">16</div>
<div class="t" style="left:676px;top:208.53px;font-size:10px;line-height:10px;">30</div>
<div class="t" style="left:676px;top:224.03px;font-size:10px;line-height:10px;">31</div>
<div class="t" style="left:676px;top:239.03px;font-size:10px;line-height:10px;">1</div>
<div class="t" style="left:676px;top:254.53px;font-size:10px;line-height:10px;">2</div>
<div class="t" style="left:676px;top:270.04px;font-size:10px;line-height:10px;">3</div>
<div class="t" style="left:676px;top:285.04px;font-size:10px;line-height:10px;">4</div>
<div class="t" style="left:676px;top:300.54px;font-size:10px;line-height:10px;">5</div>
<div class="t" style="left:676px;top:316.04px;font-size:10px;line-height:10px;">17</div>
<div class="t" style="left:704px;top:208.53px;font-size:10px;line-height:10px;">6</div>
<div class="t" style="left:704px;top:224.03px;font-size:10px;line-height:10px;">7</div>
<div class="t" style="left:704px;top:239.03px;font-size:10px;line-height:10px;">8</div>
<div class="t" style="left:704px;top:254.53px;font-size:10px;line-height:10px;">9</div>
<div class="t" style="left:704px;top:270.04px;font-size:10px;line-height:10px;">10</div>
<div class="t" style="left:704px;top:285.04px;font-size:10px;line-height:10px;">11</div>
<div class="t" style="left:704px;top:300.54px;font-size:10px;line-height:10px;">12</div>
<div class="t" style="left:704px;top:316.04px;font-size:10px;line-height:10px;">18</div>
<div class="t" style="left:734px;top:208.53px;font-size:10px;line-height:10px;">13</div>
<div class="t" style="left:734px;top:224.03px;font-size:10px;line-height:10px;">14</div>
<div class="t" style="left:734px;top:239.03px;font-size:10px;line-height:10px;">15</div>
<div class="t" style="left:734px;top:254.53px;font-size:10px;line-height:10px;">16</div>
<div class="t" style="left:734px;top:270.04px;font-size:10px;line-height:10px;">17</div>
<div class="t" style="left:734px;top:285.04px;font-size:10px;line-height:10px;">18</div>
<div class="t" style="left:734px;top:300.54px;font-size:10px;line-height:10px;">19</div>
<div class="t" style="left:734px;top:316.04px;font-size:10px;line-height:10px;">19</div>
<div class="t" style="left:764px;top:208.53px;font-size:10px;line-height:10px;">20</div>
<div class="t" style="left:764px;top:224.03px;font-size:10px;line-height:10px;">21</div>
<div class="t" style="left:764px;top:239.03px;font-size:10px;line-height:10px;">22</div>
<div class="t" style="left:764px;top:254.53px;font-size:10px;line-height:10px;">23</div>
<div class="t" style="left:764px;top:270.04px;font-size:10px;line-height:10px;">24</div>
<div class="t" style="left:764px;top:285.04px;font-size:10px;line-height:10px;">25</div>
<div class="t" style="left:764px;top:300.54px;font-size:10px;line-height:10px;">26</div>
<div class="t" style="left:764px;top:316.04px;font-size:10px;line-height:10px;">20</div>
<div class="t" style="left:790px;top:208.53px;font-size:10px;line-height:10px;">27</div>
<div class="t" style="left:790px;top:224.03px;font-size:10px;line-height:10px;">28</div>
<div class="t" style="left:790px;top:239.03px;font-size:10px;line-height:10px;">29</div>
<div class="t" style="left:790px;top:254.53px;font-size:10px;line-height:10px;">30</div>
<div class="t" style="left:790px;top:270.04px;font-size:10px;line-height:10px;">1</div>
<div class="t" style="left:790px;top:285.04px;font-size:10px;line-height:10px;">2</div>
<div class="t" style="left:790px;top:300.54px;font-size:10px;line-height:10px;">3</div>
<div class="t" style="left:790px;top:316.04px;font-size:10px;line-height:10px;">21</div>
<div class="t" style="left:819px;top:208.53px;font-size:10px;line-height:10px;">4</div>
<div class="t" style="left:819px;top:224.03px;font-size:10px;line-height:10px;">5</div>
<div class="t" style="left:819px;top:239.03px;font-size:10px;line-height:10px;">6</div>
<div class="t" style="left:819px;top:254.53px;font-size:10px;line-height:10px;">7</div>
<div class="t" style="left:819px;top:270.04px;font-size:10px;line-height:10px;">8</div>
<div class="t" style="left:819px;top:285.04px;font-size:10px;line-height:10px;">9</div>
<div class="t" style="left:819px;top:300.54px;font-size:10px;line-height:10px;">10</div>
<div class="t" style="left:819px;top:316.04px;font-size:10px;line-height:10px;">22</div>
<div class="t" style="left:847px;top:208.53px;font-size:10px;line-height:10px;">11</div>
<div class="t" style="left:847px;top:224.03px;font-size:10px;line-height:10px;">12</div>
<div class="t" style="left:847px;top:239.03px;font-size:10px;line-height:10px;">13</div>
<div class="t" style="left:847px;top:254.53px;font-size:10px;line-height:10px;">14</div>
<div class="t" style="left:847px;top:270.04px;font-size:10px;line-height:10px;">15</div>
<div class="t" style="left:847px;top:285.04px;font-size:10px;line-height:10px;">16</div>
<div class="t" style="left:847px;top:300.54px;font-size:10px;line-height:10px;">17</div>
<div class="t" style="left:847px;top:316.04px;font-size:10px;line-height:10px;">23</div>
<div class="t" style="left:876px;top:208.53px;font-size:10px;line-height:10px;">18</div>
<div class="t" style="left:876px;top:224.03px;font-size:10px;line-height:10px;">19</div>
<div class="t" style="left:876px;top:239.03px;font-size:10px;line-height:10px;">20</div>
<div class="t" style="left:876px;top:254.53px;font-size:10px;line-height:10px;">21</div>
<div class="t" style="left:876px;top:270.04px;font-size:10px;line-height:10px;">22</div>
<div class="t" style="left:876px;top:285.04px;font-size:10px;line-height:10px;">23</div>
<div class="t" style="left:876px;top:300.54px;font-size:10px;line-height:10px;">24</div>
<div class="t" style="left:876px;top:316.04px;font-size:10px;line-height:10px;">24</div>
<div class="t" style="left:908px;top:208.53px;font-size:10px;line-height:10px;">25</div>
<div class="t" style="left:908px;top:224.03px;font-size:10px;line-height:10px;">26</div>
<div class="t" style="left:908px;top:239.03px;font-size:10px;line-height:10px;">27</div>
<div class="t" style="left:908px;top:254.53px;font-size:10px;line-height:10px;">28</div>
<div class="t" style="left:908px;top:270.04px;font-size:10px;line-height:10px;">29</div>
<div class="t" style="left:908px;top:285.04px;font-size:10px;line-height:10px;">30</div>
<div class="t" style="left:908px;top:300.54px;font-size:10px;line-height:10px;">31</div>
<div class="t" style="left:908px;top:316.04px;font-size:10px;line-height:10px;">25</div>
<div class="t b" style="left:65px;top:208.53px;font-size:10px;line-height:10px;transform:scaleX(1.1633);">ორშაბათი</div>
<div class="t b" style="left:65px;top:224.03px;font-size:10px;line-height:10px;transform:scaleX(1.2167);">სამშაბათი</div>
<div class="t b" style="left:65px;top:239.03px;font-size:10px;line-height:10px;transform:scaleX(1.2148);">ოთხშაბათი</div>
<div class="t b" style="left:65px;top:254.53px;font-size:10px;line-height:10px;transform:scaleX(1.2745);">ხუთშაბათი</div>
<div class="t b" style="left:65px;top:270.04px;font-size:10px;line-height:10px;transform:scaleX(1.1333);">პარასკევი</div>
<div class="t b" style="left:65px;top:285.04px;font-size:10px;line-height:10px;transform:scaleX(1.2364);">შაბათი</div>
<div class="t b" style="left:65px;top:300.54px;font-size:10px;line-height:10px;transform:scaleX(1.1357);">კვირა</div>
<div class="t" style="left:65px;top:316.04px;font-size:10px;line-height:10px;transform:scaleX(1.0905);">სასწავლო კვირა</div>
<div class="t" style="left:65px;top:193.03px;font-size:10px;line-height:10px;transform:scaleX(1.1436);">კვირის დღე/თვე</div>
<div class="t b" style="left:178px;top:193.03px;font-size:10px;line-height:10px;transform:scaleX(1.1957);">ნოემბერი</div>
<div class="t b" style="left:254.5px;top:193.03px;font-size:10px;line-height:10px;transform:scaleX(1.1569);">დეკემბერი</div>
<div class="t b" style="left:376px;top:193.03px;font-size:10px;line-height:10px;transform:scaleX(1.2105);">იანვარი</div>
<div class="t b" style="left:465.5px;top:193.03px;font-size:10px;line-height:10px;transform:scaleX(1.1667);">თებერვალი</div>
<div class="t b" style="left:591.4px;top:193.03px;font-size:10px;line-height:10px;transform:scaleX(1.1800);">მარტი</div>
<div class="t b" style="left:715.5px;top:193.03px;font-size:10px;line-height:10px;transform:scaleX(1.1667);">აპრილი</div>
<div class="t b" style="left:871px;top:193.03px;font-size:10px;line-height:10px;transform:scaleX(1.1880);">მაისი</div>
<div class="t" style="left:177px;top:377.04px;font-size:10px;line-height:10px;">1</div>
<div class="t" style="left:177px;top:392.54px;font-size:10px;line-height:10px;">2</div>
<div class="t" style="left:177px;top:408.04px;font-size:10px;line-height:10px;">3</div>
<div class="t" style="left:177px;top:423.04px;font-size:10px;line-height:10px;">4</div>
<div class="t" style="left:177px;top:438.54px;font-size:10px;line-height:10px;">5</div>
<div class="t" style="left:177px;top:454.04px;font-size:10px;line-height:10px;">6</div>
<div class="t" style="left:177px;top:469.04px;font-size:10px;line-height:10px;">7</div>
<div class="t" style="left:205px;top:377.04px;font-size:10px;line-height:10px;">8</div>
<div class="t" style="left:205px;top:392.54px;font-size:10px;line-height:10px;">9</div>
<div class="t" style="left:205px;top:408.04px;font-size:10px;line-height:10px;">10</div>
<div class="t" style="left:205px;top:423.04px;font-size:10px;line-height:10px;">11</div>
<div class="t" style="left:205px;top:438.54px;font-size:10px;line-height:10px;">12</div>
<div class="t" style="left:205px;top:454.04px;font-size:10px;line-height:10px;">13</div>
<div class="t" style="left:205px;top:469.04px;font-size:10px;line-height:10px;">14</div>
<div class="t" style="left:205px;top:484.54px;font-size:10px;line-height:10px;">26</div>
<div class="t" style="left:233px;top:377.04px;font-size:10px;line-height:10px;">15</div>
<div class="t" style="left:233px;top:392.54px;font-size:10px;line-height:10px;">16</div>
<div class="t" style="left:233px;top:408.04px;font-size:10px;line-height:10px;">17</div>
<div class="t" style="left:233px;top:423.04px;font-size:10px;line-height:10px;">18</div>
<div class="t" style="left:233px;top:438.54px;font-size:10px;line-height:10px;">19</div>
<div class="t" style="left:233px;top:454.04px;font-size:10px;line-height:10px;">20</div>
<div class="t" style="left:233px;top:469.04px;font-size:10px;line-height:10px;">21</div>
<div class="t" style="left:233px;top:484.54px;font-size:10px;line-height:10px;">27</div>
<div class="t" style="left:262px;top:377.04px;font-size:10px;line-height:10px;">22</div>
<div class="t" style="left:262px;top:392.54px;font-size:10px;line-height:10px;">23</div>
<div class="t" style="left:262px;top:408.04px;font-size:10px;line-height:10px;">24</div>
<div class="t" style="left:262px;top:423.04px;font-size:10px;line-height:10px;">25</div>
<div class="t" style="left:262px;top:438.54px;font-size:10px;line-height:10px;">26</div>
<div class="t" style="left:262px;top:454.04px;font-size:10px;line-height:10px;">27</div>
<div class="t" style="left:262px;top:469.04px;font-size:10px;line-height:10px;">28</div>
<div class="t" style="left:262px;top:484.54px;font-size:10px;line-height:10px;">28</div>
<div class="t" style="left:290px;top:377.04px;font-size:10px;line-height:10px;">29</div>
<div class="t" style="left:290px;top:392.54px;font-size:10px;line-height:10px;">30</div>
<div class="t" style="left:290px;top:408.04px;font-size:10px;line-height:10px;">1</div>
<div class="t" style="left:290px;top:423.04px;font-size:10px;line-height:10px;">2</div>
<div class="t" style="left:290px;top:438.54px;font-size:10px;line-height:10px;">3</div>
<div class="t" style="left:290px;top:454.04px;font-size:10px;line-height:10px;">4</div>
<div class="t" style="left:290px;top:469.04px;font-size:10px;line-height:10px;">5</div>
<div class="t" style="left:290px;top:484.54px;font-size:10px;line-height:10px;">29</div>
<div class="t" style="left:318px;top:377.04px;font-size:10px;line-height:10px;">6</div>
<div class="t" style="left:318px;top:392.54px;font-size:10px;line-height:10px;">7</div>
<div class="t" style="left:318px;top:408.04px;font-size:10px;line-height:10px;">8</div>
<div class="t" style="left:318px;top:423.04px;font-size:10px;line-height:10px;">9</div>
<div class="t" style="left:318px;top:438.54px;font-size:10px;line-height:10px;">10</div>
<div class="t" style="left:318px;top:454.04px;font-size:10px;line-height:10px;">11</div>
<div class="t" style="left:318px;top:469.04px;font-size:10px;line-height:10px;">12</div>
<div class="t" style="left:318px;top:484.54px;font-size:10px;line-height:10px;">30</div>
<div class="t" style="left:347px;top:377.04px;font-size:10px;line-height:10px;">13</div>
<div class="t" style="left:347px;top:392.54px;font-size:10px;line-height:10px;">14</div>
<div class="t" style="left:347px;top:408.04px;font-size:10px;line-height:10px;">15</div>
<div class="t" style="left:347px;top:423.04px;font-size:10px;line-height:10px;">16</div>
<div class="t" style="left:347px;top:438.54px;font-size:10px;line-height:10px;">17</div>
<div class="t" style="left:347px;top:454.04px;font-size:10px;line-height:10px;">18</div>
<div class="t" style="left:347px;top:469.04px;font-size:10px;line-height:10px;">19</div>
<div class="t" style="left:347px;top:484.54px;font-size:10px;line-height:10px;">31</div>
<div class="t" style="left:375px;top:377.04px;font-size:10px;line-height:10px;">20</div>
<div class="t" style="left:375px;top:392.54px;font-size:10px;line-height:10px;">21</div>
<div class="t" style="left:375px;top:408.04px;font-size:10px;line-height:10px;">22</div>
<div class="t" style="left:375px;top:423.04px;font-size:10px;line-height:10px;">23</div>
<div class="t" style="left:375px;top:438.54px;font-size:10px;line-height:10px;">24</div>
<div class="t" style="left:375px;top:454.04px;font-size:10px;line-height:10px;">25</div>
<div class="t" style="left:375px;top:469.04px;font-size:10px;line-height:10px;">26</div>
<div class="t" style="left:375px;top:484.54px;font-size:10px;line-height:10px;">32</div>
<div class="t" style="left:403px;top:377.04px;font-size:10px;line-height:10px;">27</div>
<div class="t" style="left:403px;top:392.54px;font-size:10px;line-height:10px;">28</div>
<div class="t" style="left:403px;top:408.04px;font-size:10px;line-height:10px;">29</div>
<div class="t" style="left:403px;top:423.04px;font-size:10px;line-height:10px;">30</div>
<div class="t" style="left:403px;top:438.54px;font-size:10px;line-height:10px;">31</div>
<div class="t" style="left:403px;top:454.04px;font-size:10px;line-height:10px;">1</div>
<div class="t" style="left:403px;top:469.04px;font-size:10px;line-height:10px;">2</div>
<div class="t" style="left:403px;top:484.54px;font-size:10px;line-height:10px;">33</div>
<div class="t" style="left:432px;top:377.04px;font-size:10px;line-height:10px;">3</div>
<div class="t" style="left:432px;top:392.54px;font-size:10px;line-height:10px;">4</div>
<div class="t" style="left:432px;top:408.04px;font-size:10px;line-height:10px;">5</div>
<div class="t" style="left:432px;top:423.04px;font-size:10px;line-height:10px;">6</div>
<div class="t" style="left:432px;top:438.54px;font-size:10px;line-height:10px;">7</div>
<div class="t" style="left:432px;top:454.04px;font-size:10px;line-height:10px;">8</div>
<div class="t" style="left:432px;top:469.04px;font-size:10px;line-height:10px;">9</div>
<div class="t" style="left:432px;top:484.54px;font-size:10px;line-height:10px;">34</div>
<div class="t" style="left:460px;top:377.04px;font-size:10px;line-height:10px;">10</div>
<div class="t" style="left:460px;top:392.54px;font-size:10px;line-height:10px;">11</div>
<div class="t" style="left:460px;top:408.04px;font-size:10px;line-height:10px;">12</div>
<div class="t" style="left:460px;top:423.04px;font-size:10px;line-height:10px;">13</div>
<div class="t" style="left:460px;top:438.54px;font-size:10px;line-height:10px;">14</div>
<div class="t" style="left:460px;top:454.04px;font-size:10px;line-height:10px;">15</div>
<div class="t" style="left:460px;top:469.04px;font-size:10px;line-height:10px;">16</div>
<div class="t" style="left:460px;top:484.54px;font-size:10px;line-height:10px;">35</div>
<div class="t b" style="left:65.8px;top:377.04px;font-size:10px;line-height:10px;transform:scaleX(1.1571);">ორშაბათი</div>
<div class="t b" style="left:65.8px;top:392.54px;font-size:10px;line-height:10px;transform:scaleX(1.2021);">სამშაბათი</div>
<div class="t b" style="left:65.8px;top:408.04px;font-size:10px;line-height:10px;transform:scaleX(1.2056);">ოთხშაბათი</div>
<div class="t b" style="left:65.8px;top:423.04px;font-size:10px;line-height:10px;transform:scaleX(1.2549);">ხუთშაბათი</div>
<div class="t b" style="left:65.8px;top:438.54px;font-size:10px;line-height:10px;transform:scaleX(1.1146);">პარასკევი</div>
<div class="t b" style="left:65.8px;top:454.04px;font-size:10px;line-height:10px;transform:scaleX(1.2091);">შაბათი</div>
<div class="t" style="left:65.1px;top:469.04px;font-size:10px;line-height:10px;transform:scaleX(1.0750);">კვირა</div>
<div class="t" style="left:68.5px;top:484.54px;font-size:10px;line-height:10px;transform:scaleX(1.0842);">სასწავლო კვირა</div>
<div class="t" style="left:64.7px;top:362.04px;font-size:10px;line-height:10px;transform:scaleX(1.1539);">კვირის დღე/თვე</div>
<div class="t b" style="left:203px;top:362.04px;font-size:10px;line-height:10px;transform:scaleX(1.1767);">ივნისი</div>
<div class="t b" style="left:325.3px;top:362.04px;font-size:10px;line-height:10px;transform:scaleX(1.1667);">ივლისი</div>
<div class="t b" style="left:431.4px;top:362.04px;font-size:10px;line-height:10px;transform:scaleX(1.1788);">აგვისტ</div>
<div class="t" style="left:177px;top:533.03px;font-size:10px;line-height:10px;">18</div>
<div class="t" style="left:177px;top:548.03px;font-size:10px;line-height:10px;">19</div>
<div class="t" style="left:177px;top:563.53px;font-size:10px;line-height:10px;">20</div>
<div class="t" style="left:177px;top:579.03px;font-size:10px;line-height:10px;">21</div>
<div class="t" style="left:177px;top:594.03px;font-size:10px;line-height:10px;">22</div>
<div class="t" style="left:177px;top:609.53px;font-size:10px;line-height:10px;">23</div>
<div class="t" style="left:177px;top:625.03px;font-size:10px;line-height:10px;">24</div>
<div class="t" style="left:177px;top:640.03px;font-size:10px;line-height:10px;">1</div>
<div class="t" style="left:205px;top:533.03px;font-size:10px;line-height:10px;">25</div>
<div class="t" style="left:205px;top:548.03px;font-size:10px;line-height:10px;">26</div>
<div class="t" style="left:205px;top:563.53px;font-size:10px;line-height:10px;">27</div>
<div class="t" style="left:205px;top:579.03px;font-size:10px;line-height:10px;">28</div>
<div class="t" style="left:205px;top:594.03px;font-size:10px;line-height:10px;">29</div>
<div class="t" style="left:205px;top:609.53px;font-size:10px;line-height:10px;">30</div>
<div class="t" style="left:205px;top:625.03px;font-size:10px;line-height:10px;">31</div>
<div class="t" style="left:205px;top:640.03px;font-size:10px;line-height:10px;">2</div>
<div class="t" style="left:233px;top:533.03px;font-size:10px;line-height:10px;">1</div>
<div class="t" style="left:233px;top:548.03px;font-size:10px;line-height:10px;">2</div>
<div class="t" style="left:233px;top:563.53px;font-size:10px;line-height:10px;">3</div>
<div class="t" style="left:233px;top:579.03px;font-size:10px;line-height:10px;">4</div>
<div class="t" style="left:233px;top:594.03px;font-size:10px;line-height:10px;">5</div>
<div class="t" style="left:233px;top:609.53px;font-size:10px;line-height:10px;">6</div>
<div class="t" style="left:233px;top:625.03px;font-size:10px;line-height:10px;">7</div>
<div class="t" style="left:233px;top:640.03px;font-size:10px;line-height:10px;">3</div>
<div class="t" style="left:262px;top:533.03px;font-size:10px;line-height:10px;">8</div>
<div class="t" style="left:262px;top:548.03px;font-size:10px;line-height:10px;">9</div>
<div class="t" style="left:262px;top:563.53px;font-size:10px;line-height:10px;">10</div>
<div class="t" style="left:262px;top:579.03px;font-size:10px;line-height:10px;">11</div>
<div class="t" style="left:262px;top:594.03px;font-size:10px;line-height:10px;">12</div>
<div class="t" style="left:262px;top:609.53px;font-size:10px;line-height:10px;">13</div>
<div class="t" style="left:262px;top:625.03px;font-size:10px;line-height:10px;">14</div>
<div class="t" style="left:262px;top:640.03px;font-size:10px;line-height:10px;">4</div>
<div class="t" style="left:290px;top:533.03px;font-size:10px;line-height:10px;">15</div>
<div class="t" style="left:290px;top:548.03px;font-size:10px;line-height:10px;">16</div>
<div class="t" style="left:290px;top:563.53px;font-size:10px;line-height:10px;">17</div>
<div class="t" style="left:290px;top:579.03px;font-size:10px;line-height:10px;">18</div>
<div class="t" style="left:290px;top:594.03px;font-size:10px;line-height:10px;">19</div>
<div class="t" style="left:290px;top:609.53px;font-size:10px;line-height:10px;">20</div>
<div class="t" style="left:290px;top:625.03px;font-size:10px;line-height:10px;">21</div>
<div class="t" style="left:290px;top:640.03px;font-size:10px;line-height:10px;">5</div>
<div class="t" style="left:318px;top:533.03px;font-size:10px;line-height:10px;">22</div>
<div class="t" style="left:318px;top:548.03px;font-size:10px;line-height:10px;">23</div>
<div class="t" style="left:318px;top:563.53px;font-size:10px;line-height:10px;">24</div>
<div class="t" style="left:318px;top:579.03px;font-size:10px;line-height:10px;">25</div>
<div class="t" style="left:318px;top:594.03px;font-size:10px;line-height:10px;">26</div>
<div class="t" style="left:318px;top:609.53px;font-size:10px;line-height:10px;">27</div>
<div class="t" style="left:318px;top:625.03px;font-size:10px;line-height:10px;">28</div>
<div class="t" style="left:318px;top:640.03px;font-size:10px;line-height:10px;">6</div>
<div class="t" style="left:347px;top:533.03px;font-size:10px;line-height:10px;">29</div>
<div class="t" style="left:347px;top:548.03px;font-size:10px;line-height:10px;">30</div>
<div class="t" style="left:347px;top:563.53px;font-size:10px;line-height:10px;">1</div>
<div class="t" style="left:347px;top:579.03px;font-size:10px;line-height:10px;">2</div>
<div class="t" style="left:347px;top:594.03px;font-size:10px;line-height:10px;">3</div>
<div class="t" style="left:347px;top:609.53px;font-size:10px;line-height:10px;">4</div>
<div class="t" style="left:347px;top:625.03px;font-size:10px;line-height:10px;">5</div>
<div class="t" style="left:347px;top:640.03px;font-size:10px;line-height:10px;">7</div>
<div class="t" style="left:375px;top:533.03px;font-size:10px;line-height:10px;">6</div>
<div class="t" style="left:375px;top:548.03px;font-size:10px;line-height:10px;">7</div>
<div class="t" style="left:375px;top:563.53px;font-size:10px;line-height:10px;">8</div>
<div class="t" style="left:375px;top:579.03px;font-size:10px;line-height:10px;">9</div>
<div class="t" style="left:375px;top:594.03px;font-size:10px;line-height:10px;">10</div>
<div class="t" style="left:375px;top:609.53px;font-size:10px;line-height:10px;">11</div>
<div class="t" style="left:375px;top:625.03px;font-size:10px;line-height:10px;">12</div>
<div class="t" style="left:375px;top:640.03px;font-size:10px;line-height:10px;">8</div>
<div class="t" style="left:403px;top:533.03px;font-size:10px;line-height:10px;">13</div>
<div class="t" style="left:403px;top:548.03px;font-size:10px;line-height:10px;">14</div>
<div class="t" style="left:403px;top:563.53px;font-size:10px;line-height:10px;">15</div>
<div class="t" style="left:403px;top:579.03px;font-size:10px;line-height:10px;">16</div>
<div class="t" style="left:403px;top:594.03px;font-size:10px;line-height:10px;">17</div>
<div class="t" style="left:403px;top:609.53px;font-size:10px;line-height:10px;">18</div>
<div class="t" style="left:403px;top:625.03px;font-size:10px;line-height:10px;">19</div>
<div class="t" style="left:403px;top:640.03px;font-size:10px;line-height:10px;">9</div>
<div class="t" style="left:432px;top:533.03px;font-size:10px;line-height:10px;">20</div>
<div class="t" style="left:432px;top:548.03px;font-size:10px;line-height:10px;">21</div>
<div class="t" style="left:432px;top:563.53px;font-size:10px;line-height:10px;">22</div>
<div class="t" style="left:432px;top:579.03px;font-size:10px;line-height:10px;">23</div>
<div class="t" style="left:432px;top:594.03px;font-size:10px;line-height:10px;">24</div>
<div class="t" style="left:432px;top:609.53px;font-size:10px;line-height:10px;">25</div>
<div class="t" style="left:432px;top:625.03px;font-size:10px;line-height:10px;">26</div>
<div class="t" style="left:432px;top:640.03px;font-size:10px;line-height:10px;">10</div>
<div class="t" style="left:460px;top:533.03px;font-size:10px;line-height:10px;">27</div>
<div class="t" style="left:460px;top:548.03px;font-size:10px;line-height:10px;">28</div>
<div class="t" style="left:460px;top:563.53px;font-size:10px;line-height:10px;">29</div>
<div class="t" style="left:460px;top:579.03px;font-size:10px;line-height:10px;">30</div>
<div class="t" style="left:460px;top:594.03px;font-size:10px;line-height:10px;">31</div>
<div class="t" style="left:460px;top:609.53px;font-size:10px;line-height:10px;">1</div>
<div class="t" style="left:460px;top:625.03px;font-size:10px;line-height:10px;">2</div>
<div class="t" style="left:460px;top:640.03px;font-size:10px;line-height:10px;">11</div>
<div class="t" style="left:488px;top:533.03px;font-size:10px;line-height:10px;">3</div>
<div class="t" style="left:488px;top:548.03px;font-size:10px;line-height:10px;">4</div>
<div class="t" style="left:488px;top:563.53px;font-size:10px;line-height:10px;">5</div>
<div class="t" style="left:488px;top:579.03px;font-size:10px;line-height:10px;">6</div>
<div class="t" style="left:488px;top:594.03px;font-size:10px;line-height:10px;">7</div>
<div class="t" style="left:488px;top:609.53px;font-size:10px;line-height:10px;">8</div>
<div class="t" style="left:488px;top:625.03px;font-size:10px;line-height:10px;">9</div>
<div class="t" style="left:488px;top:640.03px;font-size:10px;line-height:10px;">12</div>
<div class="t" style="left:517px;top:533.03px;font-size:10px;line-height:10px;">10</div>
<div class="t" style="left:517px;top:548.03px;font-size:10px;line-height:10px;">11</div>
<div class="t" style="left:517px;top:563.53px;font-size:10px;line-height:10px;">12</div>
<div class="t" style="left:517px;top:579.03px;font-size:10px;line-height:10px;">13</div>
<div class="t" style="left:517px;top:594.03px;font-size:10px;line-height:10px;">14</div>
<div class="t" style="left:517px;top:609.53px;font-size:10px;line-height:10px;">15</div>
<div class="t" style="left:517px;top:625.03px;font-size:10px;line-height:10px;">16</div>
<div class="t" style="left:517px;top:640.03px;font-size:10px;line-height:10px;">13</div>
<div class="t" style="left:545px;top:533.03px;font-size:10px;line-height:10px;">17</div>
<div class="t" style="left:545px;top:548.03px;font-size:10px;line-height:10px;">18</div>
<div class="t" style="left:545px;top:563.53px;font-size:10px;line-height:10px;">19</div>
<div class="t" style="left:545px;top:579.03px;font-size:10px;line-height:10px;">20</div>
<div class="t" style="left:545px;top:594.03px;font-size:10px;line-height:10px;">21</div>
<div class="t" style="left:545px;top:609.53px;font-size:10px;line-height:10px;">22</div>
<div class="t" style="left:545px;top:625.03px;font-size:10px;line-height:10px;">23</div>
<div class="t" style="left:545px;top:640.03px;font-size:10px;line-height:10px;">14</div>
<div class="t" style="left:573px;top:533.03px;font-size:10px;line-height:10px;">24</div>
<div class="t" style="left:573px;top:548.03px;font-size:10px;line-height:10px;">25</div>
<div class="t" style="left:573px;top:563.53px;font-size:10px;line-height:10px;">26</div>
<div class="t" style="left:573px;top:579.03px;font-size:10px;line-height:10px;">27</div>
<div class="t" style="left:573px;top:594.03px;font-size:10px;line-height:10px;">28</div>
<div class="t" style="left:573px;top:609.53px;font-size:10px;line-height:10px;">29</div>
<div class="t" style="left:573px;top:625.03px;font-size:10px;line-height:10px;">30</div>
<div class="t" style="left:573px;top:640.03px;font-size:10px;line-height:10px;">15</div>
<div class="t" style="left:602px;top:533.03px;font-size:10px;line-height:10px;">1</div>
<div class="t" style="left:602px;top:548.03px;font-size:10px;line-height:10px;">2</div>
<div class="t" style="left:602px;top:563.53px;font-size:10px;line-height:10px;">3</div>
<div class="t" style="left:602px;top:579.03px;font-size:10px;line-height:10px;">4</div>
<div class="t" style="left:602px;top:594.03px;font-size:10px;line-height:10px;">5</div>
<div class="t" style="left:602px;top:609.53px;font-size:10px;line-height:10px;">6</div>
<div class="t" style="left:602px;top:625.03px;font-size:10px;line-height:10px;">7</div>
<div class="t" style="left:602px;top:640.03px;font-size:10px;line-height:10px;">16</div>
<div class="t" style="left:630px;top:533.03px;font-size:10px;line-height:10px;">8</div>
<div class="t" style="left:630px;top:548.03px;font-size:10px;line-height:10px;">9</div>
<div class="t" style="left:630px;top:563.53px;font-size:10px;line-height:10px;">10</div>
<div class="t" style="left:630px;top:579.03px;font-size:10px;line-height:10px;">11</div>
<div class="t" style="left:630px;top:594.03px;font-size:10px;line-height:10px;">12</div>
<div class="t" style="left:630px;top:609.53px;font-size:10px;line-height:10px;">13</div>
<div class="t" style="left:630px;top:625.03px;font-size:10px;line-height:10px;">14</div>
<div class="t" style="left:630px;top:640.03px;font-size:10px;line-height:10px;">17</div>
<div class="t" style="left:659px;top:533.03px;font-size:10px;line-height:10px;">15</div>
<div class="t" style="left:659px;top:548.03px;font-size:10px;line-height:10px;">16</div>
<div class="t" style="left:659px;top:563.53px;font-size:10px;line-height:10px;">17</div>
<div class="t" style="left:659px;top:579.03px;font-size:10px;line-height:10px;">18</div>
<div class="t" style="left:659px;top:594.03px;font-size:10px;line-height:10px;">19</div>
<div class="t" style="left:659px;top:609.53px;font-size:10px;line-height:10px;">20</div>
<div class="t" style="left:659px;top:625.03px;font-size:10px;line-height:10px;">21</div>
<div class="t" style="left:659px;top:640.03px;font-size:10px;line-height:10px;">18</div>
<div class="t" style="left:687px;top:533.03px;font-size:10px;line-height:10px;">22</div>
<div class="t" style="left:687px;top:548.03px;font-size:10px;line-height:10px;">23</div>
<div class="t" style="left:687px;top:563.53px;font-size:10px;line-height:10px;">24</div>
<div class="t" style="left:687px;top:579.03px;font-size:10px;line-height:10px;">25</div>
<div class="t" style="left:687px;top:594.03px;font-size:10px;line-height:10px;">26</div>
<div class="t" style="left:687px;top:609.53px;font-size:10px;line-height:10px;">27</div>
<div class="t" style="left:687px;top:625.03px;font-size:10px;line-height:10px;">28</div>
<div class="t" style="left:687px;top:640.03px;font-size:10px;line-height:10px;">19</div>
<div class="t" style="left:715px;top:533.03px;font-size:10px;line-height:10px;">29</div>
<div class="t" style="left:715px;top:548.03px;font-size:10px;line-height:10px;">30</div>
<div class="t" style="left:715px;top:563.53px;font-size:10px;line-height:10px;">31</div>
<div class="t" style="left:715px;top:579.03px;font-size:10px;line-height:10px;">1</div>
<div class="t" style="left:715px;top:594.03px;font-size:10px;line-height:10px;">2</div>
<div class="t" style="left:715px;top:609.53px;font-size:10px;line-height:10px;">3</div>
<div class="t" style="left:715px;top:625.03px;font-size:10px;line-height:10px;">4</div>
<div class="t" style="left:715px;top:640.03px;font-size:10px;line-height:10px;">20</div>
<div class="t" style="left:744px;top:533.03px;font-size:10px;line-height:10px;">5</div>
<div class="t" style="left:744px;top:548.03px;font-size:10px;line-height:10px;">6</div>
<div class="t" style="left:744px;top:563.53px;font-size:10px;line-height:10px;">7</div>
<div class="t" style="left:744px;top:579.03px;font-size:10px;line-height:10px;">8</div>
<div class="t" style="left:744px;top:594.03px;font-size:10px;line-height:10px;">9</div>
<div class="t" style="left:744px;top:609.53px;font-size:10px;line-height:10px;">10</div>
<div class="t" style="left:744px;top:625.03px;font-size:10px;line-height:10px;">11</div>
<div class="t" style="left:772px;top:533.03px;font-size:10px;line-height:10px;">12</div>
<div class="t" style="left:772px;top:548.03px;font-size:10px;line-height:10px;">13</div>
<div class="t" style="left:772px;top:563.53px;font-size:10px;line-height:10px;">14</div>
<div class="t" style="left:772px;top:579.03px;font-size:10px;line-height:10px;">15</div>
<div class="t" style="left:772px;top:594.03px;font-size:10px;line-height:10px;">16</div>
<div class="t" style="left:772px;top:609.53px;font-size:10px;line-height:10px;">17</div>
<div class="t" style="left:772px;top:625.03px;font-size:10px;line-height:10px;">18</div>
<div class="t" style="left:800px;top:533.03px;font-size:10px;line-height:10px;">19</div>
<div class="t" style="left:800px;top:548.03px;font-size:10px;line-height:10px;">20</div>
<div class="t" style="left:800px;top:563.53px;font-size:10px;line-height:10px;">21</div>
<div class="t" style="left:800px;top:579.03px;font-size:10px;line-height:10px;">22</div>
<div class="t" style="left:800px;top:594.03px;font-size:10px;line-height:10px;">23</div>
<div class="t" style="left:800px;top:609.53px;font-size:10px;line-height:10px;">24</div>
<div class="t" style="left:800px;top:625.03px;font-size:10px;line-height:10px;">25</div>
<div class="t" style="left:800px;top:640.03px;font-size:10px;line-height:10px;">21</div>
<div class="t" style="left:828px;top:533.03px;font-size:10px;line-height:10px;">26</div>
<div class="t" style="left:828px;top:548.03px;font-size:10px;line-height:10px;">27</div>
<div class="t" style="left:828px;top:563.53px;font-size:10px;line-height:10px;">28</div>
<div class="t" style="left:828px;top:579.03px;font-size:10px;line-height:10px;">29</div>
<div class="t" style="left:828px;top:594.03px;font-size:10px;line-height:10px;">30</div>
<div class="t" style="left:828px;top:609.53px;font-size:10px;line-height:10px;">31</div>
<div class="t" style="left:828px;top:625.03px;font-size:10px;line-height:10px;">1</div>
<div class="t" style="left:828px;top:640.03px;font-size:10px;line-height:10px;">22</div>
<div class="t" style="left:857px;top:533.03px;font-size:10px;line-height:10px;">2</div>
<div class="t" style="left:857px;top:548.03px;font-size:10px;line-height:10px;">3</div>
<div class="t" style="left:857px;top:563.53px;font-size:10px;line-height:10px;">4</div>
<div class="t" style="left:857px;top:579.03px;font-size:10px;line-height:10px;">5</div>
<div class="t" style="left:857px;top:594.03px;font-size:10px;line-height:10px;">6</div>
<div class="t" style="left:857px;top:609.53px;font-size:10px;line-height:10px;">7</div>
<div class="t" style="left:857px;top:625.03px;font-size:10px;line-height:10px;">8</div>
<div class="t" style="left:857px;top:640.03px;font-size:10px;line-height:10px;">23</div>
<div class="t" style="left:885px;top:533.03px;font-size:10px;line-height:10px;">9</div>
<div class="t" style="left:885px;top:548.03px;font-size:10px;line-height:10px;">10</div>
<div class="t" style="left:885px;top:563.53px;font-size:10px;line-height:10px;">11</div>
<div class="t" style="left:885px;top:579.03px;font-size:10px;line-height:10px;">12</div>
<div class="t" style="left:885px;top:594.03px;font-size:10px;line-height:10px;">13</div>
<div class="t" style="left:885px;top:609.53px;font-size:10px;line-height:10px;">14</div>
<div class="t" style="left:885px;top:625.03px;font-size:10px;line-height:10px;">15</div>
<div class="t" style="left:885px;top:640.03px;font-size:10px;line-height:10px;">24</div>
<div class="t" style="left:914px;top:533.03px;font-size:10px;line-height:10px;">16</div>
<div class="t" style="left:914px;top:548.03px;font-size:10px;line-height:10px;">17</div>
<div class="t" style="left:914px;top:563.53px;font-size:10px;line-height:10px;">18</div>
<div class="t" style="left:914px;top:579.03px;font-size:10px;line-height:10px;">19</div>
<div class="t" style="left:914px;top:594.03px;font-size:10px;line-height:10px;">20</div>
<div class="t" style="left:914px;top:609.53px;font-size:10px;line-height:10px;">21</div>
<div class="t" style="left:914px;top:625.03px;font-size:10px;line-height:10px;">22</div>
<div class="t" style="left:914px;top:640.03px;font-size:10px;line-height:10px;">25</div>
<div class="t" style="left:942px;top:533.03px;font-size:10px;line-height:10px;">23</div>
<div class="t" style="left:942px;top:548.03px;font-size:10px;line-height:10px;">24</div>
<div class="t" style="left:942px;top:563.53px;font-size:10px;line-height:10px;">25</div>
<div class="t" style="left:942px;top:579.03px;font-size:10px;line-height:10px;">26</div>
<div class="t" style="left:942px;top:594.03px;font-size:10px;line-height:10px;">27</div>
<div class="t" style="left:942px;top:609.53px;font-size:10px;line-height:10px;">28</div>
<div class="t" style="left:942px;top:625.03px;font-size:10px;line-height:10px;">1</div>
<div class="t" style="left:942px;top:640.03px;font-size:10px;line-height:10px;">26</div>
<div class="t" style="left:970px;top:533.03px;font-size:10px;line-height:10px;">2</div>
<div class="t" style="left:970px;top:548.03px;font-size:10px;line-height:10px;">3</div>
<div class="t" style="left:970px;top:563.53px;font-size:10px;line-height:10px;">4</div>
<div class="t" style="left:970px;top:579.03px;font-size:10px;line-height:10px;">5</div>
<div class="t" style="left:970px;top:594.03px;font-size:10px;line-height:10px;">6</div>
<div class="t" style="left:970px;top:609.53px;font-size:10px;line-height:10px;">7</div>
<div class="t" style="left:970px;top:625.03px;font-size:10px;line-height:10px;">8</div>
<div class="t" style="left:970px;top:640.03px;font-size:10px;line-height:10px;">27</div>
<div class="t" style="left:999px;top:533.03px;font-size:10px;line-height:10px;">9</div>
<div class="t" style="left:999px;top:548.03px;font-size:10px;line-height:10px;">10</div>
<div class="t" style="left:999px;top:563.53px;font-size:10px;line-height:10px;">11</div>
<div class="t" style="left:999px;top:579.03px;font-size:10px;line-height:10px;">12</div>
<div class="t" style="left:999px;top:594.03px;font-size:10px;line-height:10px;">13</div>
<div class="t" style="left:999px;top:609.53px;font-size:10px;line-height:10px;">14</div>
<div class="t" style="left:999px;top:625.03px;font-size:10px;line-height:10px;">15</div>
<div class="t" style="left:999px;top:640.03px;font-size:10px;line-height:10px;">28</div>
<div class="t b" style="left:68.5px;top:533.03px;font-size:10px;line-height:10px;transform:scaleX(1.1633);">ორშაბათი</div>
<div class="t b" style="left:65.3px;top:548.03px;font-size:10px;line-height:10px;transform:scaleX(1.2063);">სამშაბათი</div>
<div class="t b" style="left:65.3px;top:563.53px;font-size:10px;line-height:10px;transform:scaleX(1.2130);">ოთხშაბათი</div>
<div class="t b" style="left:65.3px;top:579.03px;font-size:10px;line-height:10px;transform:scaleX(1.2647);">ხუთშაბათი</div>
<div class="t b" style="left:65.3px;top:594.03px;font-size:10px;line-height:10px;transform:scaleX(1.1333);">პარასკევი</div>
<div class="t b" style="left:65.3px;top:609.53px;font-size:10px;line-height:10px;transform:scaleX(1.2333);">შაბათი</div>
<div class="t" style="left:64.3px;top:625.03px;font-size:10px;line-height:10px;transform:scaleX(1.1071);">კვირა</div>
<div class="t" style="left:64.9px;top:640.03px;font-size:10px;line-height:10px;transform:scaleX(1.0817);">სასწავლო კვირა</div>
<div class="t" style="left:64.9px;top:517.03px;font-size:10px;line-height:10px;transform:scaleX(1.1229);">კვირის დღეები</div>
<div class="t b" style="left:176.4px;top:517.03px;font-size:10px;line-height:10px;transform:scaleX(1.1697);">აგვისტ</div>
<div class="t b" style="left:233.5px;top:517.03px;font-size:10px;line-height:10px;transform:scaleX(1.2036);">სექტემბერი</div>
<div class="t b" style="left:368.4px;top:517.03px;font-size:10px;line-height:10px;transform:scaleX(1.1821);">ოქტომბერი</div>
<div class="t b" style="left:520.9px;top:517.03px;font-size:10px;line-height:10px;transform:scaleX(1.1891);">ნოემბერი</div>
<div class="t b" style="left:636px;top:517.03px;font-size:10px;line-height:10px;transform:scaleX(1.1549);">დეკემბერი</div>
<div class="t b" style="left:770px;top:517.03px;font-size:10px;line-height:10px;transform:scaleX(1.1947);">იანვარი</div>
<div class="t b" style="left:857.5px;top:517.03px;font-size:10px;line-height:10px;transform:scaleX(1.1807);">თებერვალი</div>
<div class="t b" style="left:970.7px;top:517.03px;font-size:10px;line-height:10px;transform:scaleX(1.1933);">მარტი</div>
<div class="t" style="left:65px;top:23.19px;font-size:11px;line-height:11px;transform:scaleX(0.9821);">შემუშავებულია:</div>
<div class="t" style="left:65px;top:40.89px;font-size:11px;line-height:11px;transform:scaleX(0.9778);">პროფესიული განათლების</div>
<div class="t" style="left:65px;top:59.69px;font-size:11px;line-height:11px;transform:scaleX(0.9934);">დეპარტამენტის უფროსის მიერ</div>
<div class="t" style="left:186.9px;top:76.99px;font-size:11px;line-height:11px;transform:scaleX(0.9363);">დ.ჩხაიძე</div>
<div class="t" style="left:79.3px;top:108.69px;font-size:11px;line-height:11px;transform:scaleX(1.0823);">08.09.2025 წ.</div>
<div class="t b" style="left:405px;top:39.34px;font-size:12px;line-height:12px;transform:scaleX(1.1155);">შპს ბათუმის უმაღლესი საზღვაო</div>
<div class="t b" style="left:408.7px;top:59.34px;font-size:12px;line-height:12px;transform:scaleX(1.0750);">საინჟინრო სასწავლებელი ანრი</div>
<div class="t" style="left:860.3px;top:23.96px;font-size:9.5px;line-height:9.5px;transform:scaleX(1.1471);">მფ–02-№147-08-29.09.21</div>
<div class="t" style="left:757.3px;top:39.69px;font-size:11px;line-height:11px;transform:scaleX(1.0147);">ვამტკიცებ  შპს  ბუსსს  ანრის დირექტორი</div>
<div class="t" style="left:917.2px;top:76.99px;font-size:11px;line-height:11px;transform:scaleX(0.9519);">ა. დიასამიძე</div>
<div class="t" style="left:912px;top:108.69px;font-size:11px;line-height:11px;transform:scaleX(1.1091);">08.09.2025 წ.</div>
<div class="t" style="left:673.4px;top:139.88px;font-size:9px;line-height:9px;transform:scaleX(1.1918);">საფუძველი ნდ 2-010136 პროფესიული საგანმანათლებლო</div>
<div class="t" style="left:696.3px;top:161.28px;font-size:9px;line-height:9px;transform:scaleX(1.1806);">პროგრამების საწავლო პროცესის მართვის დებულება</div>
<div class="t b" style="left:65.6px;top:156.65px;font-size:14px;line-height:14px;transform:scaleX(1.0044);">2025 – 2027</div>
<div class="t b" style="left:153.7px;top:156.65px;font-size:14px;line-height:14px;transform:scaleX(1.1054);">წლის საშემოდგომო მიღების სასწავლო კალენდარი</div>
<div class="t b" style="left:493.8px;top:361.19px;font-size:11px;line-height:11px;transform:scaleX(1.0096);">01  აგვისტოს მთავრდება თეორიული სწავლების პროცესი გემის</div>
<div class="t b" style="left:513.6px;top:391.19px;font-size:11px;line-height:11px;transform:scaleX(1.0057);">სამანქანე განყოფილების პროგრამაზე.</div>
<div class="t b" style="left:493.8px;top:421.29px;font-size:11px;line-height:11px;transform:scaleX(1.0068);">15  აგვისტოს მთვრდება თეორიული სწავლების</div>
<div class="t b" style="left:509.8px;top:451.19px;font-size:11px;line-height:11px;transform:scaleX(1.0107);">პროცესი საგემბანე განყოფილების პროგრამაზე.</div>
<div class="t" style="left:65px;top:671.93px;font-size:10px;line-height:10px;transform:scaleX(1.1311);">ფერის განმარტება:</div>
<div class="t" style="left:65px;top:689.33px;font-size:10px;line-height:10px;transform:scaleX(1.1167);">პროცესი</div>
<div class="t" style="left:216px;top:671.93px;font-size:10px;line-height:10px;transform:scaleX(1.1020);">სასწავლო</div>
<div class="t" style="left:217px;top:689.33px;font-size:10px;line-height:10px;transform:scaleX(1.1389);">დღეები</div>
<div class="t" style="left:348.6px;top:671.93px;font-size:10px;line-height:10px;transform:scaleX(1.2000);">უქმე</div>
<div class="t" style="left:346.5px;top:689.33px;font-size:10px;line-height:10px;transform:scaleX(1.0972);">დღეები</div>
<div class="t" style="left:454px;top:671.93px;font-size:10px;line-height:10px;transform:scaleX(1.1585);">დასვენების</div>
<div class="t" style="left:455px;top:689.33px;font-size:10px;line-height:10px;transform:scaleX(1.1194);">დღეები</div>
<div class="t" style="left:596.6px;top:671.93px;font-size:10px;line-height:10px;transform:scaleX(1.0985);">არასასწავლო</div>
<div class="t" style="left:599px;top:689.33px;font-size:10px;line-height:10px;transform:scaleX(1.1386);">პერიოდი</div>
<div class="t" style="left:65px;top:718.51px;font-size:10.5px;line-height:10.5px;transform:scaleX(1.0025);">2.5 და 26 ჯგუფისთვის საწარმოო პრაქტიკის  დაწყება-დასრულების  თარიღი:</div>
<div class="t b" style="left:512px;top:718.51px;font-size:10.5px;line-height:10.5px;transform:scaleX(1.0218);">18. 08. 2026 წ.  -  28. 02. 2027 წ.</div>
<div class="t" style="left:65px;top:735.51px;font-size:10.5px;line-height:10.5px;transform:scaleX(1.0010);">1.5 და 16 ჯგუფისთვის საწარმოო პრაქტიკის   დაწყება-დასრულების  თარიღი:</div>
<div class="t b" style="left:512px;top:735.51px;font-size:10.5px;line-height:10.5px;transform:scaleX(1.0386);">01. 09. 2026 წ. – 14. 03. 2027 წ.</div>
</div></body></html>
